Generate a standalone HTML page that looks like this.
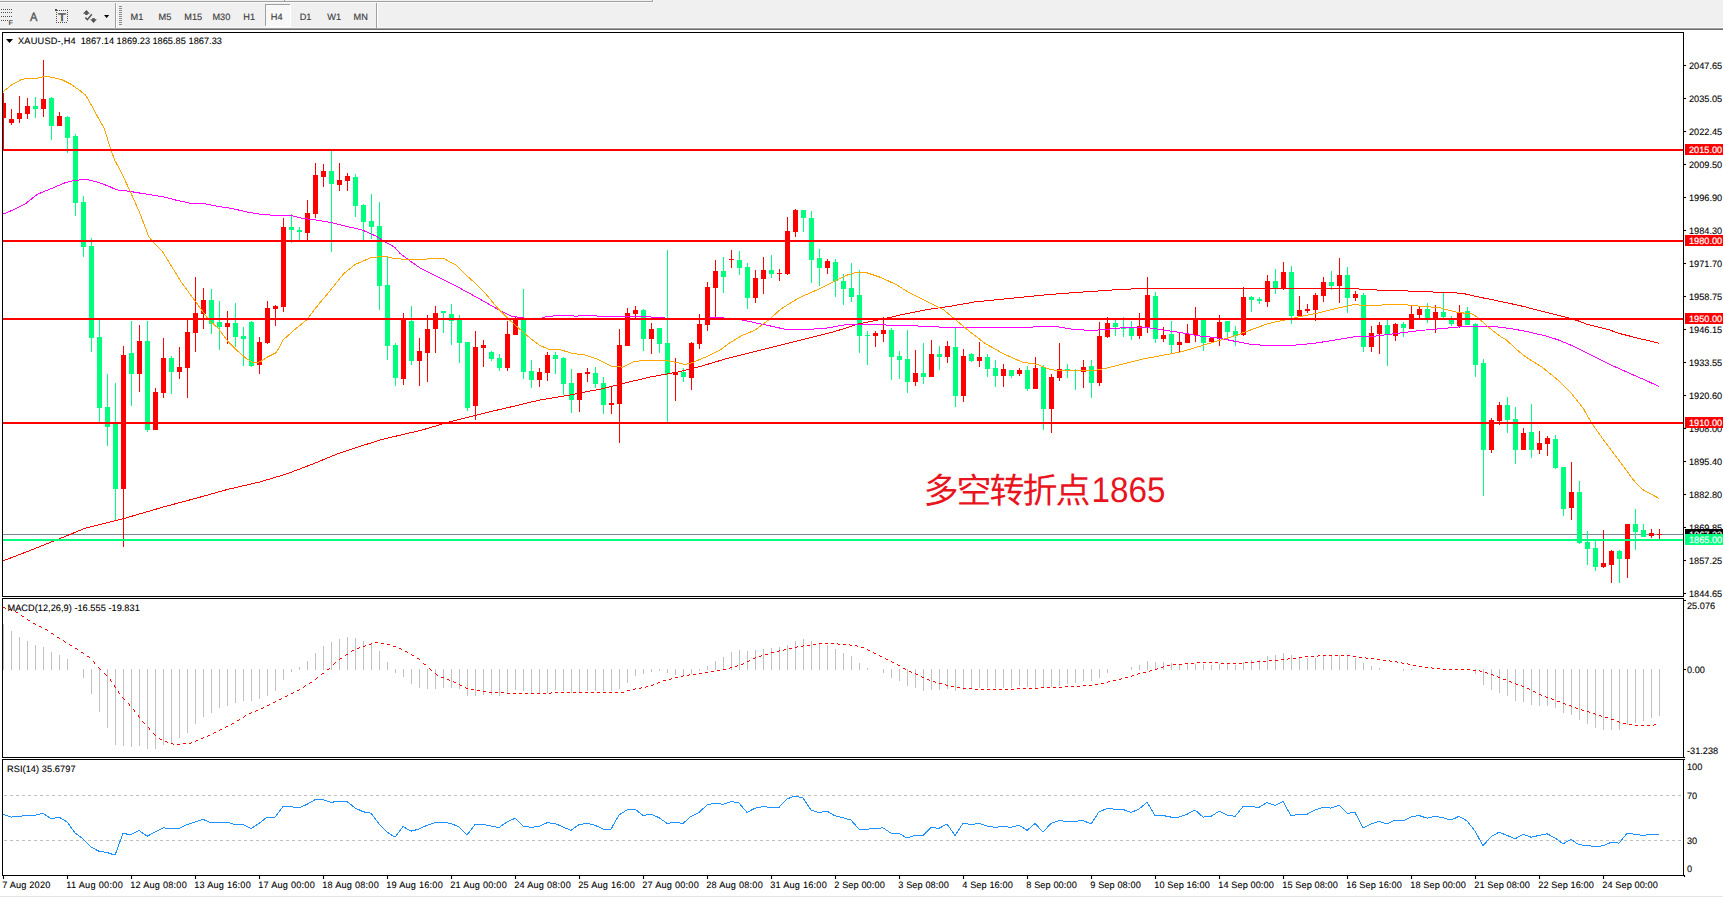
<!DOCTYPE html>
<html><head><meta charset="utf-8"><title>XAUUSD-,H4</title>
<style>
html,body{margin:0;padding:0;background:#fff;}
body{width:1723px;height:898px;overflow:hidden;}
svg{display:block;}
text{text-rendering:geometricPrecision;}
.tk{stroke:#000;stroke-width:0.1px;}
</style></head>
<body>
<svg width="1723" height="898" viewBox="0 0 1723 898">
<rect x="0" y="0" width="1723" height="28" fill="#F0F0F0"/>
<rect x="0" y="1" width="653" height="1" fill="#A0A0A0"/>
<rect x="652" y="0" width="1" height="2" fill="#A0A0A0"/>
<rect x="0" y="2" width="654" height="1" fill="#FAFAFA"/>
<rect x="653" y="0" width="1" height="3" fill="#FAFAFA"/>
<rect x="284" y="0" width="1" height="1" fill="#A0A0A0"/>
<rect x="0" y="27" width="1723" height="1" fill="#F8F8F8"/>
<rect x="0" y="28" width="1723" height="1" fill="#A0A0A0"/>
<rect x="0" y="29" width="1723" height="1" fill="#6E6E6E"/>
<rect x="115" y="3" width="1" height="25" fill="#A0A0A0"/>
<rect x="116" y="3" width="1" height="25" fill="#FFFFFF"/>
<rect x="376" y="3" width="1" height="25" fill="#A0A0A0"/>
<rect x="377" y="3" width="1" height="25" fill="#FFFFFF"/>
<rect x="119" y="6" width="3" height="1" fill="#8C8C8C"/>
<rect x="119" y="8" width="3" height="1" fill="#8C8C8C"/>
<rect x="119" y="10" width="3" height="1" fill="#8C8C8C"/>
<rect x="119" y="12" width="3" height="1" fill="#8C8C8C"/>
<rect x="119" y="14" width="3" height="1" fill="#8C8C8C"/>
<rect x="119" y="16" width="3" height="1" fill="#8C8C8C"/>
<rect x="119" y="18" width="3" height="1" fill="#8C8C8C"/>
<rect x="119" y="20" width="3" height="1" fill="#8C8C8C"/>
<rect x="119" y="22" width="3" height="1" fill="#8C8C8C"/>
<rect x="119" y="24" width="3" height="1" fill="#8C8C8C"/>
<rect x="1" y="9" width="1" height="1" fill="#505050"/>
<rect x="3" y="9" width="1" height="1" fill="#505050"/>
<rect x="5" y="9" width="1" height="1" fill="#505050"/>
<rect x="7" y="9" width="1" height="1" fill="#505050"/>
<rect x="9" y="9" width="1" height="1" fill="#505050"/>
<rect x="11" y="9" width="1" height="1" fill="#505050"/>
<rect x="1" y="12" width="1" height="1" fill="#505050"/>
<rect x="3" y="12" width="1" height="1" fill="#505050"/>
<rect x="5" y="12" width="1" height="1" fill="#505050"/>
<rect x="7" y="12" width="1" height="1" fill="#505050"/>
<rect x="9" y="12" width="1" height="1" fill="#505050"/>
<rect x="11" y="12" width="1" height="1" fill="#505050"/>
<rect x="1" y="16" width="1" height="1" fill="#505050"/>
<rect x="3" y="16" width="1" height="1" fill="#505050"/>
<rect x="5" y="16" width="1" height="1" fill="#505050"/>
<rect x="7" y="16" width="1" height="1" fill="#505050"/>
<rect x="9" y="16" width="1" height="1" fill="#505050"/>
<rect x="11" y="16" width="1" height="1" fill="#505050"/>
<rect x="1" y="20" width="1" height="1" fill="#505050"/>
<rect x="3" y="20" width="1" height="1" fill="#505050"/>
<rect x="5" y="20" width="1" height="1" fill="#505050"/>
<rect x="7" y="20" width="1" height="1" fill="#505050"/>
<text x="8.5" y="25.1" font-family="'Liberation Sans', Arial, sans-serif" font-size="7" font-weight="bold" fill="#505050" textLength="4.4" lengthAdjust="spacingAndGlyphs">F</text>
<text x="29.9" y="21" font-family="'Liberation Sans', Arial, sans-serif" font-size="12" fill="#505050" stroke="#505050" stroke-width="0.35" textLength="7.4" lengthAdjust="spacingAndGlyphs">A</text>
<rect x="59" y="10" width="1" height="1" fill="#505050"/>
<rect x="61" y="10" width="1" height="1" fill="#505050"/>
<rect x="63" y="10" width="1" height="1" fill="#505050"/>
<rect x="65" y="10" width="1" height="1" fill="#505050"/>
<rect x="67" y="10" width="1" height="1" fill="#505050"/>
<rect x="56" y="12" width="1" height="1" fill="#505050"/>
<rect x="56" y="14" width="1" height="1" fill="#505050"/>
<rect x="56" y="16" width="1" height="1" fill="#505050"/>
<rect x="56" y="18" width="1" height="1" fill="#505050"/>
<rect x="56" y="20" width="1" height="1" fill="#505050"/>
<rect x="56" y="22" width="1" height="1" fill="#505050"/>
<rect x="58" y="22" width="1" height="1" fill="#505050"/>
<rect x="60" y="22" width="1" height="1" fill="#505050"/>
<rect x="62" y="22" width="1" height="1" fill="#505050"/>
<rect x="64" y="22" width="1" height="1" fill="#505050"/>
<rect x="66" y="22" width="1" height="1" fill="#505050"/>
<rect x="67" y="12" width="1" height="1" fill="#505050"/>
<rect x="67" y="14" width="1" height="1" fill="#505050"/>
<rect x="67" y="16" width="1" height="1" fill="#505050"/>
<rect x="67" y="18" width="1" height="1" fill="#505050"/>
<rect x="67" y="20" width="1" height="1" fill="#505050"/>
<rect x="55" y="9" width="2" height="2" fill="#505050"/>
<rect x="57" y="10" width="1" height="1" fill="#505050"/>
<text x="57.9" y="21" font-family="'Liberation Sans', Arial, sans-serif" font-size="11" fill="#505050" stroke="#505050" stroke-width="0.45" textLength="8" lengthAdjust="spacingAndGlyphs">T</text>
<path d="M83 13.8 L86.4 10 L89.9 13.8 Z" fill="#505050"/>
<rect x="85.2" y="13.5" width="2.5" height="1.5" fill="#505050"/>
<path d="M90.2 19.2 L96.9 19.2 L93.5 22.9 Z" fill="#505050"/>
<rect x="92.3" y="18.1" width="2.5" height="1.5" fill="#505050"/>
<path d="M85.3 17.4 L87.4 19.6 L91.8 14.3" stroke="#505050" stroke-width="1.4" fill="none"/>
<path d="M104 15 L109.2 15 L106.6 18 Z" fill="#000"/>
<rect x="265" y="4" width="26" height="23" fill="#F8F8F8"/>
<rect x="265" y="4" width="25" height="1" fill="#A0A0A0"/>
<rect x="265" y="4" width="1" height="22" fill="#A0A0A0"/>
<rect x="290" y="4" width="1" height="23" fill="#FFFFFF"/>
<rect x="265" y="26" width="26" height="1" fill="#FFFFFF"/>
<text x="137.0" y="20" font-family="'Liberation Sans', Arial, sans-serif" font-size="9.2" fill="#404040" stroke="#404040" stroke-width="0.15" text-anchor="middle">M1</text>
<text x="165.0" y="20" font-family="'Liberation Sans', Arial, sans-serif" font-size="9.2" fill="#404040" stroke="#404040" stroke-width="0.15" text-anchor="middle">M5</text>
<text x="193.2" y="20" font-family="'Liberation Sans', Arial, sans-serif" font-size="9.2" fill="#404040" stroke="#404040" stroke-width="0.15" text-anchor="middle">M15</text>
<text x="221.4" y="20" font-family="'Liberation Sans', Arial, sans-serif" font-size="9.2" fill="#404040" stroke="#404040" stroke-width="0.15" text-anchor="middle">M30</text>
<text x="249.2" y="20" font-family="'Liberation Sans', Arial, sans-serif" font-size="9.2" fill="#404040" stroke="#404040" stroke-width="0.15" text-anchor="middle">H1</text>
<text x="276.7" y="20" font-family="'Liberation Sans', Arial, sans-serif" font-size="9.2" fill="#404040" stroke="#404040" stroke-width="0.15" text-anchor="middle">H4</text>
<text x="305.5" y="20" font-family="'Liberation Sans', Arial, sans-serif" font-size="9.2" fill="#404040" stroke="#404040" stroke-width="0.15" text-anchor="middle">D1</text>
<text x="334.2" y="20" font-family="'Liberation Sans', Arial, sans-serif" font-size="9.2" fill="#404040" stroke="#404040" stroke-width="0.15" text-anchor="middle">W1</text>
<text x="360.7" y="20" font-family="'Liberation Sans', Arial, sans-serif" font-size="9.2" fill="#404040" stroke="#404040" stroke-width="0.15" text-anchor="middle">MN</text>
<rect x="0" y="30" width="1723" height="866" fill="#FFFFFF"/>
<rect x="0" y="896" width="1723" height="1" fill="#E3E3E3"/>
<rect x="0" y="897" width="1723" height="1" fill="#FEFEFE"/>
<rect x="2" y="32" width="1682" height="1" fill="#000"/>
<rect x="2" y="596" width="1682" height="1" fill="#000"/>
<rect x="2" y="32" width="1" height="565" fill="#000"/>
<rect x="1683" y="32" width="1" height="565" fill="#000"/>
<rect x="2" y="598" width="1682" height="1" fill="#000"/>
<rect x="2" y="757" width="1682" height="1" fill="#000"/>
<rect x="2" y="598" width="1" height="160" fill="#000"/>
<rect x="1683" y="598" width="1" height="160" fill="#000"/>
<rect x="2" y="759" width="1682" height="1" fill="#000"/>
<rect x="2" y="875" width="1682" height="1" fill="#000"/>
<rect x="2" y="759" width="1" height="117" fill="#000"/>
<rect x="1683" y="759" width="1" height="117" fill="#000"/>
<defs><clipPath id="cm"><rect x="3" y="33" width="1680" height="563"/></clipPath><clipPath id="cmacd"><rect x="3" y="599" width="1680" height="158"/></clipPath><clipPath id="crsi"><rect x="3" y="760" width="1680" height="115"/></clipPath></defs>
<rect x="3" y="534" width="1680" height="1" fill="#778899"/>
<g clip-path="url(#cm)" shape-rendering="crispEdges">
<rect x="3" y="93" width="1" height="58" fill="#FF0000"/>
<rect x="1" y="103" width="5" height="15" fill="#FF0000"/>
<rect x="11" y="109" width="1" height="16" fill="#FF0000"/>
<rect x="9" y="119" width="5" height="4" fill="#FF0000"/>
<rect x="19" y="96" width="1" height="27" fill="#FF0000"/>
<rect x="17" y="113" width="5" height="6" fill="#FF0000"/>
<rect x="27" y="98" width="1" height="21" fill="#FF0000"/>
<rect x="25" y="106" width="5" height="8" fill="#FF0000"/>
<rect x="35" y="97" width="1" height="21" fill="#00FF7F"/>
<rect x="33" y="106" width="5" height="3" fill="#00FF7F"/>
<rect x="43" y="60" width="1" height="57" fill="#FF0000"/>
<rect x="41" y="99" width="5" height="10" fill="#FF0000"/>
<rect x="51" y="97" width="1" height="43" fill="#00FF7F"/>
<rect x="49" y="98" width="5" height="28" fill="#00FF7F"/>
<rect x="59" y="112" width="1" height="14" fill="#FF0000"/>
<rect x="57" y="116" width="5" height="10" fill="#FF0000"/>
<rect x="67" y="116" width="1" height="37" fill="#00FF7F"/>
<rect x="65" y="117" width="5" height="21" fill="#00FF7F"/>
<rect x="75" y="134" width="1" height="82" fill="#00FF7F"/>
<rect x="73" y="136" width="5" height="67" fill="#00FF7F"/>
<rect x="83" y="196" width="1" height="61" fill="#00FF7F"/>
<rect x="81" y="202" width="5" height="45" fill="#00FF7F"/>
<rect x="91" y="238" width="1" height="114" fill="#00FF7F"/>
<rect x="89" y="246" width="5" height="92" fill="#00FF7F"/>
<rect x="99" y="320" width="1" height="102" fill="#00FF7F"/>
<rect x="97" y="337" width="5" height="71" fill="#00FF7F"/>
<rect x="107" y="374" width="1" height="72" fill="#00FF7F"/>
<rect x="105" y="407" width="5" height="20" fill="#00FF7F"/>
<rect x="115" y="383" width="1" height="138" fill="#00FF7F"/>
<rect x="113" y="424" width="5" height="65" fill="#00FF7F"/>
<rect x="123" y="346" width="1" height="201" fill="#FF0000"/>
<rect x="121" y="355" width="5" height="134" fill="#FF0000"/>
<rect x="131" y="321" width="1" height="85" fill="#00FF7F"/>
<rect x="129" y="353" width="5" height="21" fill="#00FF7F"/>
<rect x="139" y="325" width="1" height="67" fill="#FF0000"/>
<rect x="137" y="341" width="5" height="33" fill="#FF0000"/>
<rect x="147" y="321" width="1" height="111" fill="#00FF7F"/>
<rect x="145" y="341" width="5" height="89" fill="#00FF7F"/>
<rect x="155" y="388" width="1" height="42" fill="#FF0000"/>
<rect x="153" y="392" width="5" height="38" fill="#FF0000"/>
<rect x="163" y="338" width="1" height="60" fill="#FF0000"/>
<rect x="161" y="358" width="5" height="35" fill="#FF0000"/>
<rect x="171" y="356" width="1" height="38" fill="#00FF7F"/>
<rect x="169" y="358" width="5" height="14" fill="#00FF7F"/>
<rect x="179" y="347" width="1" height="32" fill="#FF0000"/>
<rect x="177" y="367" width="5" height="5" fill="#FF0000"/>
<rect x="187" y="320" width="1" height="78" fill="#FF0000"/>
<rect x="185" y="332" width="5" height="36" fill="#FF0000"/>
<rect x="195" y="277" width="1" height="75" fill="#FF0000"/>
<rect x="193" y="313" width="5" height="20" fill="#FF0000"/>
<rect x="203" y="288" width="1" height="41" fill="#FF0000"/>
<rect x="201" y="300" width="5" height="14" fill="#FF0000"/>
<rect x="211" y="289" width="1" height="45" fill="#00FF7F"/>
<rect x="209" y="300" width="5" height="24" fill="#00FF7F"/>
<rect x="219" y="301" width="1" height="49" fill="#00FF7F"/>
<rect x="217" y="322" width="5" height="5" fill="#00FF7F"/>
<rect x="227" y="311" width="1" height="33" fill="#FF0000"/>
<rect x="225" y="323" width="5" height="4" fill="#FF0000"/>
<rect x="235" y="303" width="1" height="44" fill="#00FF7F"/>
<rect x="233" y="323" width="5" height="14" fill="#00FF7F"/>
<rect x="243" y="327" width="1" height="39" fill="#00FF7F"/>
<rect x="241" y="336" width="5" height="3" fill="#00FF7F"/>
<rect x="251" y="321" width="1" height="46" fill="#00FF7F"/>
<rect x="249" y="322" width="5" height="44" fill="#00FF7F"/>
<rect x="259" y="337" width="1" height="37" fill="#FF0000"/>
<rect x="257" y="342" width="5" height="23" fill="#FF0000"/>
<rect x="267" y="301" width="1" height="43" fill="#FF0000"/>
<rect x="265" y="308" width="5" height="35" fill="#FF0000"/>
<rect x="275" y="305" width="1" height="21" fill="#FF0000"/>
<rect x="273" y="306" width="5" height="3" fill="#FF0000"/>
<rect x="283" y="218" width="1" height="94" fill="#FF0000"/>
<rect x="281" y="227" width="5" height="80" fill="#FF0000"/>
<rect x="291" y="214" width="1" height="29" fill="#00FF7F"/>
<rect x="289" y="227" width="5" height="3" fill="#00FF7F"/>
<rect x="299" y="227" width="1" height="13" fill="#00FF7F"/>
<rect x="297" y="230" width="5" height="2" fill="#00FF7F"/>
<rect x="307" y="200" width="1" height="40" fill="#FF0000"/>
<rect x="305" y="213" width="5" height="20" fill="#FF0000"/>
<rect x="315" y="163" width="1" height="55" fill="#FF0000"/>
<rect x="313" y="175" width="5" height="39" fill="#FF0000"/>
<rect x="323" y="164" width="1" height="23" fill="#FF0000"/>
<rect x="321" y="171" width="5" height="6" fill="#FF0000"/>
<rect x="331" y="151" width="1" height="101" fill="#00FF7F"/>
<rect x="329" y="171" width="5" height="13" fill="#00FF7F"/>
<rect x="339" y="163" width="1" height="28" fill="#FF0000"/>
<rect x="337" y="180" width="5" height="5" fill="#FF0000"/>
<rect x="347" y="173" width="1" height="18" fill="#FF0000"/>
<rect x="345" y="176" width="5" height="5" fill="#FF0000"/>
<rect x="355" y="174" width="1" height="43" fill="#00FF7F"/>
<rect x="353" y="177" width="5" height="29" fill="#00FF7F"/>
<rect x="363" y="204" width="1" height="36" fill="#00FF7F"/>
<rect x="361" y="205" width="5" height="17" fill="#00FF7F"/>
<rect x="371" y="194" width="1" height="45" fill="#00FF7F"/>
<rect x="369" y="221" width="5" height="6" fill="#00FF7F"/>
<rect x="379" y="202" width="1" height="108" fill="#00FF7F"/>
<rect x="377" y="226" width="5" height="60" fill="#00FF7F"/>
<rect x="387" y="256" width="1" height="104" fill="#00FF7F"/>
<rect x="385" y="285" width="5" height="61" fill="#00FF7F"/>
<rect x="395" y="343" width="1" height="43" fill="#00FF7F"/>
<rect x="393" y="345" width="5" height="33" fill="#00FF7F"/>
<rect x="403" y="313" width="1" height="72" fill="#FF0000"/>
<rect x="401" y="319" width="5" height="60" fill="#FF0000"/>
<rect x="411" y="306" width="1" height="59" fill="#00FF7F"/>
<rect x="409" y="321" width="5" height="40" fill="#00FF7F"/>
<rect x="419" y="338" width="1" height="48" fill="#FF0000"/>
<rect x="417" y="351" width="5" height="10" fill="#FF0000"/>
<rect x="427" y="315" width="1" height="67" fill="#FF0000"/>
<rect x="425" y="329" width="5" height="24" fill="#FF0000"/>
<rect x="435" y="306" width="1" height="47" fill="#FF0000"/>
<rect x="433" y="313" width="5" height="16" fill="#FF0000"/>
<rect x="443" y="311" width="1" height="22" fill="#00FF7F"/>
<rect x="441" y="311" width="5" height="2" fill="#00FF7F"/>
<rect x="451" y="304" width="1" height="41" fill="#00FF7F"/>
<rect x="449" y="314" width="5" height="7" fill="#00FF7F"/>
<rect x="459" y="315" width="1" height="48" fill="#00FF7F"/>
<rect x="457" y="319" width="5" height="24" fill="#00FF7F"/>
<rect x="467" y="342" width="1" height="69" fill="#00FF7F"/>
<rect x="465" y="342" width="5" height="66" fill="#00FF7F"/>
<rect x="475" y="331" width="1" height="89" fill="#FF0000"/>
<rect x="473" y="347" width="5" height="59" fill="#FF0000"/>
<rect x="483" y="340" width="1" height="27" fill="#FF0000"/>
<rect x="481" y="345" width="5" height="3" fill="#FF0000"/>
<rect x="491" y="351" width="1" height="10" fill="#00FF7F"/>
<rect x="489" y="352" width="5" height="7" fill="#00FF7F"/>
<rect x="499" y="354" width="1" height="17" fill="#00FF7F"/>
<rect x="497" y="358" width="5" height="10" fill="#00FF7F"/>
<rect x="507" y="321" width="1" height="50" fill="#FF0000"/>
<rect x="505" y="334" width="5" height="34" fill="#FF0000"/>
<rect x="515" y="317" width="1" height="18" fill="#FF0000"/>
<rect x="513" y="319" width="5" height="16" fill="#FF0000"/>
<rect x="523" y="289" width="1" height="90" fill="#00FF7F"/>
<rect x="521" y="319" width="5" height="53" fill="#00FF7F"/>
<rect x="531" y="360" width="1" height="28" fill="#00FF7F"/>
<rect x="529" y="371" width="5" height="9" fill="#00FF7F"/>
<rect x="539" y="368" width="1" height="19" fill="#FF0000"/>
<rect x="537" y="372" width="5" height="8" fill="#FF0000"/>
<rect x="547" y="352" width="1" height="29" fill="#FF0000"/>
<rect x="545" y="355" width="5" height="18" fill="#FF0000"/>
<rect x="555" y="352" width="1" height="22" fill="#00FF7F"/>
<rect x="553" y="355" width="5" height="4" fill="#00FF7F"/>
<rect x="563" y="357" width="1" height="38" fill="#00FF7F"/>
<rect x="561" y="358" width="5" height="26" fill="#00FF7F"/>
<rect x="571" y="369" width="1" height="44" fill="#00FF7F"/>
<rect x="569" y="383" width="5" height="17" fill="#00FF7F"/>
<rect x="579" y="373" width="1" height="39" fill="#FF0000"/>
<rect x="577" y="373" width="5" height="27" fill="#FF0000"/>
<rect x="587" y="368" width="1" height="14" fill="#FF0000"/>
<rect x="585" y="372" width="5" height="2" fill="#FF0000"/>
<rect x="595" y="367" width="1" height="21" fill="#00FF7F"/>
<rect x="593" y="373" width="5" height="11" fill="#00FF7F"/>
<rect x="603" y="377" width="1" height="37" fill="#00FF7F"/>
<rect x="601" y="383" width="5" height="22" fill="#00FF7F"/>
<rect x="611" y="387" width="1" height="27" fill="#FF0000"/>
<rect x="609" y="403" width="5" height="2" fill="#FF0000"/>
<rect x="619" y="329" width="1" height="114" fill="#FF0000"/>
<rect x="617" y="345" width="5" height="59" fill="#FF0000"/>
<rect x="627" y="308" width="1" height="38" fill="#FF0000"/>
<rect x="625" y="313" width="5" height="33" fill="#FF0000"/>
<rect x="635" y="306" width="1" height="13" fill="#FF0000"/>
<rect x="633" y="310" width="5" height="4" fill="#FF0000"/>
<rect x="643" y="309" width="1" height="42" fill="#00FF7F"/>
<rect x="641" y="310" width="5" height="29" fill="#00FF7F"/>
<rect x="651" y="323" width="1" height="31" fill="#FF0000"/>
<rect x="649" y="329" width="5" height="10" fill="#FF0000"/>
<rect x="659" y="328" width="1" height="25" fill="#00FF7F"/>
<rect x="657" y="328" width="5" height="16" fill="#00FF7F"/>
<rect x="667" y="250" width="1" height="172" fill="#00FF7F"/>
<rect x="665" y="343" width="5" height="31" fill="#00FF7F"/>
<rect x="675" y="358" width="1" height="43" fill="#FF0000"/>
<rect x="673" y="372" width="5" height="3" fill="#FF0000"/>
<rect x="683" y="368" width="1" height="14" fill="#00FF7F"/>
<rect x="681" y="372" width="5" height="5" fill="#00FF7F"/>
<rect x="691" y="342" width="1" height="48" fill="#FF0000"/>
<rect x="689" y="343" width="5" height="35" fill="#FF0000"/>
<rect x="699" y="314" width="1" height="35" fill="#FF0000"/>
<rect x="697" y="324" width="5" height="20" fill="#FF0000"/>
<rect x="707" y="282" width="1" height="49" fill="#FF0000"/>
<rect x="705" y="287" width="5" height="38" fill="#FF0000"/>
<rect x="715" y="260" width="1" height="58" fill="#FF0000"/>
<rect x="713" y="271" width="5" height="17" fill="#FF0000"/>
<rect x="723" y="257" width="1" height="36" fill="#00FF7F"/>
<rect x="721" y="271" width="5" height="6" fill="#00FF7F"/>
<rect x="731" y="250" width="1" height="18" fill="#FF0000"/>
<rect x="729" y="259" width="5" height="1" fill="#FF0000"/>
<rect x="739" y="251" width="1" height="24" fill="#00FF7F"/>
<rect x="737" y="260" width="5" height="8" fill="#00FF7F"/>
<rect x="747" y="263" width="1" height="46" fill="#00FF7F"/>
<rect x="745" y="267" width="5" height="31" fill="#00FF7F"/>
<rect x="755" y="270" width="1" height="33" fill="#FF0000"/>
<rect x="753" y="278" width="5" height="20" fill="#FF0000"/>
<rect x="763" y="257" width="1" height="37" fill="#FF0000"/>
<rect x="761" y="270" width="5" height="9" fill="#FF0000"/>
<rect x="771" y="255" width="1" height="23" fill="#00FF7F"/>
<rect x="769" y="270" width="5" height="4" fill="#00FF7F"/>
<rect x="779" y="269" width="1" height="12" fill="#FF0000"/>
<rect x="777" y="273" width="5" height="1" fill="#FF0000"/>
<rect x="787" y="217" width="1" height="58" fill="#FF0000"/>
<rect x="785" y="231" width="5" height="43" fill="#FF0000"/>
<rect x="795" y="209" width="1" height="28" fill="#FF0000"/>
<rect x="793" y="210" width="5" height="22" fill="#FF0000"/>
<rect x="803" y="210" width="1" height="22" fill="#00FF7F"/>
<rect x="801" y="210" width="5" height="8" fill="#00FF7F"/>
<rect x="811" y="211" width="1" height="72" fill="#00FF7F"/>
<rect x="809" y="218" width="5" height="42" fill="#00FF7F"/>
<rect x="819" y="249" width="1" height="37" fill="#00FF7F"/>
<rect x="817" y="258" width="5" height="10" fill="#00FF7F"/>
<rect x="827" y="259" width="1" height="15" fill="#FF0000"/>
<rect x="825" y="261" width="5" height="7" fill="#FF0000"/>
<rect x="835" y="259" width="1" height="38" fill="#00FF7F"/>
<rect x="833" y="262" width="5" height="19" fill="#00FF7F"/>
<rect x="843" y="274" width="1" height="31" fill="#00FF7F"/>
<rect x="841" y="281" width="5" height="8" fill="#00FF7F"/>
<rect x="851" y="263" width="1" height="39" fill="#00FF7F"/>
<rect x="849" y="288" width="5" height="9" fill="#00FF7F"/>
<rect x="859" y="270" width="1" height="83" fill="#00FF7F"/>
<rect x="857" y="295" width="5" height="41" fill="#00FF7F"/>
<rect x="867" y="331" width="1" height="34" fill="#00FF7F"/>
<rect x="865" y="335" width="5" height="1" fill="#00FF7F"/>
<rect x="875" y="331" width="1" height="16" fill="#FF0000"/>
<rect x="873" y="333" width="5" height="3" fill="#FF0000"/>
<rect x="883" y="317" width="1" height="25" fill="#FF0000"/>
<rect x="881" y="330" width="5" height="4" fill="#FF0000"/>
<rect x="891" y="328" width="1" height="52" fill="#00FF7F"/>
<rect x="889" y="330" width="5" height="27" fill="#00FF7F"/>
<rect x="899" y="351" width="1" height="28" fill="#00FF7F"/>
<rect x="897" y="356" width="5" height="4" fill="#00FF7F"/>
<rect x="907" y="330" width="1" height="63" fill="#00FF7F"/>
<rect x="905" y="359" width="5" height="23" fill="#00FF7F"/>
<rect x="915" y="350" width="1" height="36" fill="#FF0000"/>
<rect x="913" y="373" width="5" height="9" fill="#FF0000"/>
<rect x="923" y="343" width="1" height="41" fill="#00FF7F"/>
<rect x="921" y="373" width="5" height="4" fill="#00FF7F"/>
<rect x="931" y="340" width="1" height="37" fill="#FF0000"/>
<rect x="929" y="354" width="5" height="23" fill="#FF0000"/>
<rect x="939" y="346" width="1" height="24" fill="#00FF7F"/>
<rect x="937" y="354" width="5" height="3" fill="#00FF7F"/>
<rect x="947" y="341" width="1" height="22" fill="#FF0000"/>
<rect x="945" y="346" width="5" height="11" fill="#FF0000"/>
<rect x="955" y="328" width="1" height="79" fill="#00FF7F"/>
<rect x="953" y="347" width="5" height="49" fill="#00FF7F"/>
<rect x="963" y="349" width="1" height="53" fill="#FF0000"/>
<rect x="961" y="356" width="5" height="40" fill="#FF0000"/>
<rect x="971" y="353" width="1" height="9" fill="#00FF7F"/>
<rect x="969" y="354" width="5" height="7" fill="#00FF7F"/>
<rect x="979" y="342" width="1" height="25" fill="#FF0000"/>
<rect x="977" y="357" width="5" height="4" fill="#FF0000"/>
<rect x="987" y="354" width="1" height="23" fill="#00FF7F"/>
<rect x="985" y="357" width="5" height="12" fill="#00FF7F"/>
<rect x="995" y="360" width="1" height="27" fill="#00FF7F"/>
<rect x="993" y="368" width="5" height="8" fill="#00FF7F"/>
<rect x="1003" y="364" width="1" height="23" fill="#FF0000"/>
<rect x="1001" y="369" width="5" height="7" fill="#FF0000"/>
<rect x="1011" y="370" width="1" height="8" fill="#00FF7F"/>
<rect x="1009" y="370" width="5" height="6" fill="#00FF7F"/>
<rect x="1019" y="368" width="1" height="8" fill="#FF0000"/>
<rect x="1017" y="370" width="5" height="4" fill="#FF0000"/>
<rect x="1027" y="366" width="1" height="25" fill="#00FF7F"/>
<rect x="1025" y="370" width="5" height="19" fill="#00FF7F"/>
<rect x="1035" y="357" width="1" height="32" fill="#FF0000"/>
<rect x="1033" y="368" width="5" height="21" fill="#FF0000"/>
<rect x="1043" y="365" width="1" height="65" fill="#00FF7F"/>
<rect x="1041" y="367" width="5" height="42" fill="#00FF7F"/>
<rect x="1051" y="374" width="1" height="59" fill="#FF0000"/>
<rect x="1049" y="377" width="5" height="32" fill="#FF0000"/>
<rect x="1059" y="343" width="1" height="38" fill="#FF0000"/>
<rect x="1057" y="369" width="5" height="9" fill="#FF0000"/>
<rect x="1067" y="364" width="1" height="14" fill="#00FF7F"/>
<rect x="1065" y="369" width="5" height="2" fill="#00FF7F"/>
<rect x="1075" y="369" width="1" height="21" fill="#00FF7F"/>
<rect x="1073" y="370" width="5" height="1" fill="#00FF7F"/>
<rect x="1083" y="360" width="1" height="28" fill="#FF0000"/>
<rect x="1081" y="367" width="5" height="5" fill="#FF0000"/>
<rect x="1091" y="360" width="1" height="38" fill="#00FF7F"/>
<rect x="1089" y="366" width="5" height="17" fill="#00FF7F"/>
<rect x="1099" y="322" width="1" height="64" fill="#FF0000"/>
<rect x="1097" y="336" width="5" height="47" fill="#FF0000"/>
<rect x="1107" y="317" width="1" height="21" fill="#FF0000"/>
<rect x="1105" y="323" width="5" height="14" fill="#FF0000"/>
<rect x="1115" y="320" width="1" height="16" fill="#00FF7F"/>
<rect x="1113" y="323" width="5" height="4" fill="#00FF7F"/>
<rect x="1123" y="317" width="1" height="20" fill="#00FF7F"/>
<rect x="1121" y="328" width="5" height="1" fill="#00FF7F"/>
<rect x="1131" y="321" width="1" height="19" fill="#00FF7F"/>
<rect x="1129" y="328" width="5" height="8" fill="#00FF7F"/>
<rect x="1139" y="313" width="1" height="26" fill="#FF0000"/>
<rect x="1137" y="326" width="5" height="10" fill="#FF0000"/>
<rect x="1147" y="277" width="1" height="56" fill="#FF0000"/>
<rect x="1145" y="295" width="5" height="32" fill="#FF0000"/>
<rect x="1155" y="292" width="1" height="51" fill="#00FF7F"/>
<rect x="1153" y="296" width="5" height="43" fill="#00FF7F"/>
<rect x="1163" y="327" width="1" height="15" fill="#FF0000"/>
<rect x="1161" y="335" width="5" height="4" fill="#FF0000"/>
<rect x="1171" y="321" width="1" height="32" fill="#00FF7F"/>
<rect x="1169" y="334" width="5" height="11" fill="#00FF7F"/>
<rect x="1179" y="332" width="1" height="20" fill="#FF0000"/>
<rect x="1177" y="342" width="5" height="3" fill="#FF0000"/>
<rect x="1187" y="324" width="1" height="19" fill="#FF0000"/>
<rect x="1185" y="334" width="5" height="9" fill="#FF0000"/>
<rect x="1195" y="307" width="1" height="35" fill="#FF0000"/>
<rect x="1193" y="319" width="5" height="16" fill="#FF0000"/>
<rect x="1203" y="320" width="1" height="31" fill="#00FF7F"/>
<rect x="1201" y="320" width="5" height="23" fill="#00FF7F"/>
<rect x="1211" y="337" width="1" height="6" fill="#FF0000"/>
<rect x="1209" y="338" width="5" height="4" fill="#FF0000"/>
<rect x="1219" y="315" width="1" height="31" fill="#FF0000"/>
<rect x="1217" y="322" width="5" height="17" fill="#FF0000"/>
<rect x="1227" y="321" width="1" height="17" fill="#00FF7F"/>
<rect x="1225" y="321" width="5" height="11" fill="#00FF7F"/>
<rect x="1235" y="326" width="1" height="20" fill="#00FF7F"/>
<rect x="1233" y="331" width="5" height="5" fill="#00FF7F"/>
<rect x="1243" y="287" width="1" height="49" fill="#FF0000"/>
<rect x="1241" y="297" width="5" height="38" fill="#FF0000"/>
<rect x="1251" y="296" width="1" height="16" fill="#00FF7F"/>
<rect x="1249" y="297" width="5" height="3" fill="#00FF7F"/>
<rect x="1259" y="297" width="1" height="7" fill="#00FF7F"/>
<rect x="1257" y="299" width="5" height="2" fill="#00FF7F"/>
<rect x="1267" y="275" width="1" height="32" fill="#FF0000"/>
<rect x="1265" y="281" width="5" height="21" fill="#FF0000"/>
<rect x="1275" y="269" width="1" height="25" fill="#00FF7F"/>
<rect x="1273" y="281" width="5" height="7" fill="#00FF7F"/>
<rect x="1283" y="262" width="1" height="28" fill="#FF0000"/>
<rect x="1281" y="272" width="5" height="17" fill="#FF0000"/>
<rect x="1291" y="266" width="1" height="58" fill="#00FF7F"/>
<rect x="1289" y="272" width="5" height="44" fill="#00FF7F"/>
<rect x="1299" y="296" width="1" height="20" fill="#FF0000"/>
<rect x="1297" y="310" width="5" height="6" fill="#FF0000"/>
<rect x="1307" y="304" width="1" height="9" fill="#FF0000"/>
<rect x="1305" y="309" width="5" height="2" fill="#FF0000"/>
<rect x="1315" y="293" width="1" height="28" fill="#FF0000"/>
<rect x="1313" y="295" width="5" height="15" fill="#FF0000"/>
<rect x="1323" y="277" width="1" height="25" fill="#FF0000"/>
<rect x="1321" y="282" width="5" height="14" fill="#FF0000"/>
<rect x="1331" y="271" width="1" height="19" fill="#00FF7F"/>
<rect x="1329" y="282" width="5" height="4" fill="#00FF7F"/>
<rect x="1339" y="258" width="1" height="45" fill="#FF0000"/>
<rect x="1337" y="275" width="5" height="11" fill="#FF0000"/>
<rect x="1347" y="267" width="1" height="46" fill="#00FF7F"/>
<rect x="1345" y="275" width="5" height="23" fill="#00FF7F"/>
<rect x="1355" y="291" width="1" height="10" fill="#FF0000"/>
<rect x="1353" y="294" width="5" height="4" fill="#FF0000"/>
<rect x="1363" y="293" width="1" height="59" fill="#00FF7F"/>
<rect x="1361" y="295" width="5" height="52" fill="#00FF7F"/>
<rect x="1371" y="326" width="1" height="26" fill="#FF0000"/>
<rect x="1369" y="333" width="5" height="14" fill="#FF0000"/>
<rect x="1379" y="322" width="1" height="32" fill="#FF0000"/>
<rect x="1377" y="325" width="5" height="9" fill="#FF0000"/>
<rect x="1387" y="320" width="1" height="46" fill="#00FF7F"/>
<rect x="1385" y="325" width="5" height="10" fill="#00FF7F"/>
<rect x="1395" y="323" width="1" height="18" fill="#FF0000"/>
<rect x="1393" y="324" width="5" height="12" fill="#FF0000"/>
<rect x="1403" y="322" width="1" height="15" fill="#00FF7F"/>
<rect x="1401" y="324" width="5" height="4" fill="#00FF7F"/>
<rect x="1411" y="306" width="1" height="23" fill="#FF0000"/>
<rect x="1409" y="314" width="5" height="15" fill="#FF0000"/>
<rect x="1419" y="307" width="1" height="12" fill="#FF0000"/>
<rect x="1417" y="309" width="5" height="6" fill="#FF0000"/>
<rect x="1427" y="303" width="1" height="20" fill="#00FF7F"/>
<rect x="1425" y="309" width="5" height="9" fill="#00FF7F"/>
<rect x="1435" y="305" width="1" height="28" fill="#FF0000"/>
<rect x="1433" y="312" width="5" height="6" fill="#FF0000"/>
<rect x="1443" y="293" width="1" height="25" fill="#00FF7F"/>
<rect x="1441" y="312" width="5" height="5" fill="#00FF7F"/>
<rect x="1451" y="316" width="1" height="10" fill="#00FF7F"/>
<rect x="1449" y="320" width="5" height="4" fill="#00FF7F"/>
<rect x="1459" y="305" width="1" height="23" fill="#FF0000"/>
<rect x="1457" y="312" width="5" height="14" fill="#FF0000"/>
<rect x="1467" y="307" width="1" height="18" fill="#00FF7F"/>
<rect x="1465" y="311" width="5" height="14" fill="#00FF7F"/>
<rect x="1475" y="323" width="1" height="54" fill="#00FF7F"/>
<rect x="1473" y="324" width="5" height="41" fill="#00FF7F"/>
<rect x="1483" y="359" width="1" height="137" fill="#00FF7F"/>
<rect x="1481" y="363" width="5" height="87" fill="#00FF7F"/>
<rect x="1491" y="418" width="1" height="35" fill="#FF0000"/>
<rect x="1489" y="420" width="5" height="30" fill="#FF0000"/>
<rect x="1499" y="402" width="1" height="23" fill="#FF0000"/>
<rect x="1497" y="405" width="5" height="16" fill="#FF0000"/>
<rect x="1507" y="397" width="1" height="36" fill="#00FF7F"/>
<rect x="1505" y="405" width="5" height="15" fill="#00FF7F"/>
<rect x="1515" y="407" width="1" height="57" fill="#00FF7F"/>
<rect x="1513" y="419" width="5" height="31" fill="#00FF7F"/>
<rect x="1523" y="428" width="1" height="22" fill="#FF0000"/>
<rect x="1521" y="433" width="5" height="17" fill="#FF0000"/>
<rect x="1531" y="404" width="1" height="54" fill="#00FF7F"/>
<rect x="1529" y="432" width="5" height="18" fill="#00FF7F"/>
<rect x="1539" y="431" width="1" height="23" fill="#FF0000"/>
<rect x="1537" y="443" width="5" height="7" fill="#FF0000"/>
<rect x="1547" y="436" width="1" height="20" fill="#FF0000"/>
<rect x="1545" y="438" width="5" height="6" fill="#FF0000"/>
<rect x="1555" y="435" width="1" height="34" fill="#00FF7F"/>
<rect x="1553" y="439" width="5" height="29" fill="#00FF7F"/>
<rect x="1563" y="467" width="1" height="49" fill="#00FF7F"/>
<rect x="1561" y="467" width="5" height="42" fill="#00FF7F"/>
<rect x="1571" y="462" width="1" height="58" fill="#FF0000"/>
<rect x="1569" y="492" width="5" height="16" fill="#FF0000"/>
<rect x="1579" y="481" width="1" height="63" fill="#00FF7F"/>
<rect x="1577" y="492" width="5" height="51" fill="#00FF7F"/>
<rect x="1587" y="531" width="1" height="34" fill="#00FF7F"/>
<rect x="1585" y="542" width="5" height="7" fill="#00FF7F"/>
<rect x="1595" y="541" width="1" height="30" fill="#00FF7F"/>
<rect x="1593" y="548" width="5" height="19" fill="#00FF7F"/>
<rect x="1603" y="530" width="1" height="38" fill="#FF0000"/>
<rect x="1601" y="563" width="5" height="4" fill="#FF0000"/>
<rect x="1611" y="550" width="1" height="33" fill="#FF0000"/>
<rect x="1609" y="551" width="5" height="14" fill="#FF0000"/>
<rect x="1619" y="550" width="1" height="33" fill="#00FF7F"/>
<rect x="1617" y="551" width="5" height="8" fill="#00FF7F"/>
<rect x="1627" y="524" width="1" height="54" fill="#FF0000"/>
<rect x="1625" y="524" width="5" height="35" fill="#FF0000"/>
<rect x="1635" y="509" width="1" height="41" fill="#00FF7F"/>
<rect x="1633" y="524" width="5" height="8" fill="#00FF7F"/>
<rect x="1643" y="524" width="1" height="13" fill="#00FF7F"/>
<rect x="1641" y="530" width="5" height="7" fill="#00FF7F"/>
<rect x="1651" y="529" width="1" height="9" fill="#FF0000"/>
<rect x="1649" y="533" width="5" height="3" fill="#FF0000"/>
<rect x="1659" y="529" width="1" height="10" fill="#FF0000"/>
<rect x="1657" y="534" width="5" height="1" fill="#FF0000"/>
</g>
<g clip-path="url(#cm)" shape-rendering="crispEdges">
<polyline points="3.03,560.93 32.53,549.53 58.53,539.13 84.53,528.43 123.53,518.63 162.53,507.23 195.03,498.53 227.53,489.43 260.03,481.93 286.03,474.13 312.03,464.33 338.03,453.63 357.53,447.13 383.53,439.03 422.53,429.93 448.53,422.13 487.53,412.33 509.13,407.33 539.33,400.13 569.53,395.03 599.73,389.23 622.93,383.43 650.73,376.93 678.63,371.83 701.83,366.03 725.03,359.03 748.23,353.23 771.43,347.43 800.03,340.33 834.83,331.53 858.03,324.03 881.33,319.43 904.53,314.03 927.73,309.43 950.93,306.13 974.13,302.03 997.33,299.63 1020.53,297.33 1043.83,295.03 1067.03,293.13 1090.23,291.53 1113.43,289.93 1136.63,288.73 1159.83,288.03 1200.03,288.53 1358.03,288.53 1360.03,289.53 1376.03,289.53 1378.03,290.53 1407.03,290.53 1409.03,291.43 1432.03,291.43 1434.03,292.33 1448.03,292.43 1463.03,293.43 1480.03,297.33 1490.73,299.43 1506.83,302.73 1523.03,306.33 1539.03,310.63 1555.23,314.53 1567.03,317.43 1576.63,320.33 1587.43,324.43 1598.13,327.03 1608.83,329.73 1619.63,333.53 1630.33,336.23 1641.03,338.93 1651.83,341.33 1659.03,343.23" fill="none" stroke="#FF0000" stroke-width="1" />
<polyline points="3.03,214.13 13.93,209.53 25.53,203.73 37.13,194.43 51.13,188.63 65.03,182.83 74.33,180.53 85.93,179.33 97.53,182.13 109.13,186.33 116.13,189.73 130.03,191.43 143.93,193.73 162.53,196.73 176.43,200.23 190.43,203.23 204.33,203.73 218.23,206.53 232.23,208.53 246.13,211.83 260.03,214.13 273.93,215.33 290.23,215.33 301.83,218.33 315.73,219.93 329.73,222.23 343.63,225.73 362.23,229.93 376.13,236.23 385.43,242.03 394.73,247.33 400.03,253.43 409.33,260.43 420.93,268.53 434.83,275.53 458.03,287.13 481.33,299.83 497.53,309.13 511.43,316.13 520.73,317.63 528.03,318.53 540.03,318.53 546.03,316.83 550.93,316.13 562.53,315.43 576.43,316.13 585.73,315.43 599.73,316.13 632.23,316.53 660.03,317.23 668.03,318.53 705.03,318.53 711.13,317.63 720.43,317.83 735.03,318.63 743.63,320.33 762.23,324.23 776.13,327.23 785.43,329.33 800.03,329.43 823.23,328.73 846.43,324.53 869.63,324.53 892.93,325.23 916.13,325.93 939.33,327.03 962.53,327.53 985.73,327.53 1008.93,327.03 1032.23,327.03 1055.43,326.33 1073.93,329.43 1090.23,330.33 1101.83,329.83 1125.03,327.53 1143.63,327.03 1162.23,329.83 1180.73,332.63 1200.03,336.03 1217.03,337.73 1234.13,341.13 1251.23,344.53 1268.33,345.43 1291.03,345.43 1313.83,343.43 1336.53,339.73 1353.63,336.83 1376.33,336.03 1399.13,333.13 1421.83,330.33 1444.63,328.33 1467.33,326.03 1480.03,326.53 1496.03,326.83 1512.03,328.73 1528.33,331.93 1544.43,335.63 1555.23,338.93 1558.63,340.03 1576.63,347.63 1593.63,356.13 1612.53,365.63 1631.53,374.13 1646.63,380.73 1659.03,386.43" fill="none" stroke="#FF00FF" stroke-width="1" />
<polyline points="3.13,91.73 12.33,84.33 22.13,79.23 28.23,78.43 36.83,78.43 44.13,76.33 51.53,77.23 61.33,79.43 71.13,84.33 79.73,90.43 85.83,95.33 90.73,103.93 98.03,117.43 104.23,128.43 110.33,148.03 114.63,160.03 120.73,171.23 130.03,190.93 139.33,211.83 148.63,236.23 153.23,242.33 162.53,251.63 171.83,266.73 181.13,281.83 190.43,294.63 199.73,307.33 208.93,320.13 218.23,328.23 227.53,341.03 236.83,350.33 246.13,358.43 253.03,362.63 260.03,361.93 267.03,357.23 276.33,352.63 283.23,339.83 294.83,329.43 306.43,320.13 318.03,305.03 329.73,291.13 343.63,273.73 355.23,264.43 371.43,257.43 385.43,256.33 394.73,258.63 409.03,259.43 423.23,259.23 442.93,258.03 455.73,265.03 463.83,273.13 474.33,282.43 485.93,294.03 497.53,308.03 509.13,319.63 520.73,330.03 530.03,338.13 539.33,345.13 548.63,349.33 560.23,349.73 571.83,353.23 585.73,355.13 597.33,359.03 611.33,366.03 622.93,367.23 634.53,361.33 648.43,360.23 664.73,360.23 676.33,362.53 685.53,364.43 692.53,362.53 706.43,356.73 720.43,349.73 729.73,342.83 741.33,335.83 755.23,330.03 769.13,319.63 780.73,309.13 790.03,303.33 800.03,297.33 818.63,289.23 834.83,281.13 846.43,275.33 855.73,272.53 867.33,272.93 881.33,277.63 897.53,285.33 909.13,292.73 925.43,300.83 943.93,310.13 957.93,321.73 971.83,333.33 985.73,343.83 1004.33,354.23 1022.93,362.33 1036.83,364.23 1050.73,369.83 1064.73,370.53 1078.63,370.93 1092.53,370.93 1106.43,368.13 1125.03,363.53 1143.63,358.83 1162.23,355.43 1180.73,351.93 1200.03,346.23 1217.03,341.13 1234.13,336.03 1251.23,329.73 1268.33,323.53 1285.33,319.83 1302.43,316.13 1319.53,312.73 1336.53,308.43 1353.63,304.73 1370.63,305.63 1387.73,304.73 1404.83,304.73 1421.83,306.43 1438.93,307.53 1456.03,312.13 1473.03,314.13 1480.03,319.53 1486.43,325.43 1492.93,330.83 1501.53,337.23 1506.53,340.03 1516.03,349.03 1524.53,356.13 1542.53,367.53 1557.63,379.83 1571.83,394.03 1583.23,408.23 1591.73,423.33 1601.23,436.63 1612.53,451.73 1623.93,466.93 1633.43,480.13 1642.83,489.63 1659.03,498.43" fill="none" stroke="#FFA500" stroke-width="1" />
</g>
<g shape-rendering="crispEdges">
<rect x="3" y="149" width="1680" height="2" fill="#FF0000"/>
<rect x="3" y="240" width="1680" height="2" fill="#FF0000"/>
<rect x="3" y="318" width="1680" height="2" fill="#FF0000"/>
<rect x="3" y="422" width="1680" height="2" fill="#FF0000"/>
<rect x="3" y="539" width="1680" height="2" fill="#00FF7F"/>
</g>
<g class="tk" font-family="'Liberation Sans', Arial, sans-serif" font-size="9.2" fill="#000">
<rect x="1684" y="65" width="2" height="1" fill="#000"/>
<text x="1689" y="69">2047.65</text>
<rect x="1684" y="98" width="2" height="1" fill="#000"/>
<text x="1689" y="102">2035.05</text>
<rect x="1684" y="131" width="2" height="1" fill="#000"/>
<text x="1689" y="135">2022.45</text>
<rect x="1684" y="164" width="2" height="1" fill="#000"/>
<text x="1689" y="168">2009.50</text>
<rect x="1684" y="197" width="2" height="1" fill="#000"/>
<text x="1689" y="201">1996.90</text>
<rect x="1684" y="230" width="2" height="1" fill="#000"/>
<text x="1689" y="234">1984.30</text>
<rect x="1684" y="263" width="2" height="1" fill="#000"/>
<text x="1689" y="267">1971.70</text>
<rect x="1684" y="296" width="2" height="1" fill="#000"/>
<text x="1689" y="300">1958.75</text>
<rect x="1684" y="329" width="2" height="1" fill="#000"/>
<text x="1689" y="333">1946.15</text>
<rect x="1684" y="362" width="2" height="1" fill="#000"/>
<text x="1689" y="366">1933.55</text>
<rect x="1684" y="395" width="2" height="1" fill="#000"/>
<text x="1689" y="399">1920.60</text>
<rect x="1684" y="428" width="2" height="1" fill="#000"/>
<text x="1689" y="432">1908.00</text>
<rect x="1684" y="461" width="2" height="1" fill="#000"/>
<text x="1689" y="465">1895.40</text>
<rect x="1684" y="494" width="2" height="1" fill="#000"/>
<text x="1689" y="498">1882.80</text>
<rect x="1684" y="527" width="2" height="1" fill="#000"/>
<text x="1689" y="531">1869.85</text>
<rect x="1684" y="560" width="2" height="1" fill="#000"/>
<text x="1689" y="564">1857.25</text>
<rect x="1684" y="593" width="2" height="1" fill="#000"/>
<text x="1689" y="597">1844.65</text>
</g>
<g font-family="'Liberation Sans', Arial, sans-serif" font-size="9.2">
<rect x="1685" y="144" width="38" height="11" fill="#FF0000"/><text x="1689" y="153" fill="#FFF" stroke="#FFF" stroke-width="0.2">2015.00</text>
<rect x="1685" y="235" width="38" height="11" fill="#FF0000"/><text x="1689" y="244" fill="#FFF" stroke="#FFF" stroke-width="0.2">1980.00</text>
<rect x="1685" y="313" width="38" height="11" fill="#FF0000"/><text x="1689" y="322" fill="#FFF" stroke="#FFF" stroke-width="0.2">1950.00</text>
<rect x="1685" y="417" width="38" height="11" fill="#FF0000"/><text x="1689" y="426" fill="#FFF" stroke="#FFF" stroke-width="0.2">1910.00</text>
<rect x="1685" y="529" width="38" height="11" fill="#000"/><text x="1689" y="538" fill="#FFF" stroke="#FFF" stroke-width="0.2">1867.33</text>
<rect x="1685" y="534" width="38" height="11" fill="#00FF7F"/><text x="1689" y="543" fill="#FFF" stroke="#FFF" stroke-width="0.2">1865.00</text>
</g>
<polygon points="6,39 13,39 9.5,43" fill="#000"/>
<g class="tk" font-family="'Liberation Sans', Arial, sans-serif" font-size="9.2" fill="#000">
<text x="18" y="44" textLength="57.6" lengthAdjust="spacing">XAUUSD-,H4</text>
<text x="80.7" y="44" textLength="33.4" lengthAdjust="spacing">1867.14</text>
<text x="116.6" y="44" textLength="33.4" lengthAdjust="spacing">1869.23</text>
<text x="152.4" y="44" textLength="33.4" lengthAdjust="spacing">1865.85</text>
<text x="188.5" y="44" textLength="33.4" lengthAdjust="spacing">1867.33</text>
</g>
<text x="923.5" y="503" font-family="'Liberation Sans', 'Noto Sans CJK SC', sans-serif" font-size="35" fill="#E8141E" textLength="167" lengthAdjust="spacing">多空转折点</text>
<text x="1091.5" y="501.5" font-family="'Liberation Sans', 'Noto Sans CJK SC', sans-serif" font-size="35.5" fill="#E8141E" textLength="74" lengthAdjust="spacingAndGlyphs">1865</text>
<g clip-path="url(#cmacd)" shape-rendering="crispEdges">
<rect x="3" y="624" width="1" height="46" fill="#C0C0C0"/>
<rect x="11" y="631" width="1" height="39" fill="#C0C0C0"/>
<rect x="19" y="637" width="1" height="33" fill="#C0C0C0"/>
<rect x="27" y="641" width="1" height="29" fill="#C0C0C0"/>
<rect x="35" y="645" width="1" height="25" fill="#C0C0C0"/>
<rect x="43" y="647" width="1" height="23" fill="#C0C0C0"/>
<rect x="51" y="652" width="1" height="18" fill="#C0C0C0"/>
<rect x="59" y="655" width="1" height="15" fill="#C0C0C0"/>
<rect x="67" y="659" width="1" height="11" fill="#C0C0C0"/>
<rect x="83" y="669" width="1" height="9" fill="#C0C0C0"/>
<rect x="91" y="669" width="1" height="25" fill="#C0C0C0"/>
<rect x="99" y="669" width="1" height="43" fill="#C0C0C0"/>
<rect x="107" y="669" width="1" height="59" fill="#C0C0C0"/>
<rect x="115" y="669" width="1" height="76" fill="#C0C0C0"/>
<rect x="123" y="669" width="1" height="77" fill="#C0C0C0"/>
<rect x="131" y="669" width="1" height="78" fill="#C0C0C0"/>
<rect x="139" y="669" width="1" height="77" fill="#C0C0C0"/>
<rect x="147" y="669" width="1" height="80" fill="#C0C0C0"/>
<rect x="155" y="669" width="1" height="80" fill="#C0C0C0"/>
<rect x="163" y="669" width="1" height="76" fill="#C0C0C0"/>
<rect x="171" y="669" width="1" height="75" fill="#C0C0C0"/>
<rect x="179" y="669" width="1" height="69" fill="#C0C0C0"/>
<rect x="187" y="669" width="1" height="64" fill="#C0C0C0"/>
<rect x="195" y="669" width="1" height="55" fill="#C0C0C0"/>
<rect x="203" y="669" width="1" height="48" fill="#C0C0C0"/>
<rect x="211" y="669" width="1" height="44" fill="#C0C0C0"/>
<rect x="219" y="669" width="1" height="39" fill="#C0C0C0"/>
<rect x="227" y="669" width="1" height="37" fill="#C0C0C0"/>
<rect x="235" y="669" width="1" height="34" fill="#C0C0C0"/>
<rect x="243" y="669" width="1" height="32" fill="#C0C0C0"/>
<rect x="251" y="669" width="1" height="32" fill="#C0C0C0"/>
<rect x="259" y="669" width="1" height="30" fill="#C0C0C0"/>
<rect x="267" y="669" width="1" height="27" fill="#C0C0C0"/>
<rect x="275" y="669" width="1" height="22" fill="#C0C0C0"/>
<rect x="283" y="669" width="1" height="11" fill="#C0C0C0"/>
<rect x="291" y="669" width="1" height="3" fill="#C0C0C0"/>
<rect x="299" y="667" width="1" height="3" fill="#C0C0C0"/>
<rect x="307" y="661" width="1" height="9" fill="#C0C0C0"/>
<rect x="315" y="653" width="1" height="17" fill="#C0C0C0"/>
<rect x="323" y="646" width="1" height="24" fill="#C0C0C0"/>
<rect x="331" y="642" width="1" height="28" fill="#C0C0C0"/>
<rect x="339" y="639" width="1" height="31" fill="#C0C0C0"/>
<rect x="347" y="637" width="1" height="33" fill="#C0C0C0"/>
<rect x="355" y="638" width="1" height="32" fill="#C0C0C0"/>
<rect x="363" y="641" width="1" height="29" fill="#C0C0C0"/>
<rect x="371" y="643" width="1" height="27" fill="#C0C0C0"/>
<rect x="379" y="651" width="1" height="19" fill="#C0C0C0"/>
<rect x="387" y="662" width="1" height="8" fill="#C0C0C0"/>
<rect x="395" y="669" width="1" height="4" fill="#C0C0C0"/>
<rect x="403" y="669" width="1" height="8" fill="#C0C0C0"/>
<rect x="411" y="669" width="1" height="15" fill="#C0C0C0"/>
<rect x="419" y="669" width="1" height="19" fill="#C0C0C0"/>
<rect x="427" y="669" width="1" height="20" fill="#C0C0C0"/>
<rect x="435" y="669" width="1" height="20" fill="#C0C0C0"/>
<rect x="443" y="669" width="1" height="19" fill="#C0C0C0"/>
<rect x="451" y="669" width="1" height="19" fill="#C0C0C0"/>
<rect x="459" y="669" width="1" height="20" fill="#C0C0C0"/>
<rect x="467" y="669" width="1" height="27" fill="#C0C0C0"/>
<rect x="475" y="669" width="1" height="27" fill="#C0C0C0"/>
<rect x="483" y="669" width="1" height="26" fill="#C0C0C0"/>
<rect x="491" y="669" width="1" height="26" fill="#C0C0C0"/>
<rect x="499" y="669" width="1" height="27" fill="#C0C0C0"/>
<rect x="507" y="669" width="1" height="25" fill="#C0C0C0"/>
<rect x="515" y="669" width="1" height="21" fill="#C0C0C0"/>
<rect x="523" y="669" width="1" height="22" fill="#C0C0C0"/>
<rect x="531" y="669" width="1" height="24" fill="#C0C0C0"/>
<rect x="539" y="669" width="1" height="24" fill="#C0C0C0"/>
<rect x="547" y="669" width="1" height="24" fill="#C0C0C0"/>
<rect x="555" y="669" width="1" height="21" fill="#C0C0C0"/>
<rect x="563" y="669" width="1" height="22" fill="#C0C0C0"/>
<rect x="571" y="669" width="1" height="24" fill="#C0C0C0"/>
<rect x="579" y="669" width="1" height="24" fill="#C0C0C0"/>
<rect x="587" y="669" width="1" height="22" fill="#C0C0C0"/>
<rect x="595" y="669" width="1" height="22" fill="#C0C0C0"/>
<rect x="603" y="669" width="1" height="22" fill="#C0C0C0"/>
<rect x="611" y="669" width="1" height="22" fill="#C0C0C0"/>
<rect x="619" y="669" width="1" height="20" fill="#C0C0C0"/>
<rect x="627" y="669" width="1" height="14" fill="#C0C0C0"/>
<rect x="635" y="669" width="1" height="7" fill="#C0C0C0"/>
<rect x="643" y="669" width="1" height="5" fill="#C0C0C0"/>
<rect x="651" y="669" width="1" height="3" fill="#C0C0C0"/>
<rect x="659" y="669" width="1" height="2" fill="#C0C0C0"/>
<rect x="667" y="669" width="1" height="4" fill="#C0C0C0"/>
<rect x="675" y="669" width="1" height="6" fill="#C0C0C0"/>
<rect x="683" y="669" width="1" height="7" fill="#C0C0C0"/>
<rect x="691" y="669" width="1" height="5" fill="#C0C0C0"/>
<rect x="699" y="669" width="1" height="2" fill="#C0C0C0"/>
<rect x="707" y="666" width="1" height="4" fill="#C0C0C0"/>
<rect x="715" y="661" width="1" height="9" fill="#C0C0C0"/>
<rect x="723" y="657" width="1" height="13" fill="#C0C0C0"/>
<rect x="731" y="652" width="1" height="18" fill="#C0C0C0"/>
<rect x="739" y="650" width="1" height="20" fill="#C0C0C0"/>
<rect x="747" y="651" width="1" height="19" fill="#C0C0C0"/>
<rect x="755" y="650" width="1" height="20" fill="#C0C0C0"/>
<rect x="763" y="649" width="1" height="21" fill="#C0C0C0"/>
<rect x="771" y="648" width="1" height="22" fill="#C0C0C0"/>
<rect x="779" y="647" width="1" height="23" fill="#C0C0C0"/>
<rect x="787" y="645" width="1" height="25" fill="#C0C0C0"/>
<rect x="795" y="641" width="1" height="29" fill="#C0C0C0"/>
<rect x="803" y="639" width="1" height="31" fill="#C0C0C0"/>
<rect x="811" y="641" width="1" height="29" fill="#C0C0C0"/>
<rect x="819" y="644" width="1" height="26" fill="#C0C0C0"/>
<rect x="827" y="645" width="1" height="25" fill="#C0C0C0"/>
<rect x="835" y="649" width="1" height="21" fill="#C0C0C0"/>
<rect x="843" y="653" width="1" height="17" fill="#C0C0C0"/>
<rect x="851" y="656" width="1" height="14" fill="#C0C0C0"/>
<rect x="859" y="663" width="1" height="7" fill="#C0C0C0"/>
<rect x="867" y="668" width="1" height="2" fill="#C0C0C0"/>
<rect x="883" y="669" width="1" height="4" fill="#C0C0C0"/>
<rect x="891" y="669" width="1" height="9" fill="#C0C0C0"/>
<rect x="899" y="669" width="1" height="12" fill="#C0C0C0"/>
<rect x="907" y="669" width="1" height="17" fill="#C0C0C0"/>
<rect x="915" y="669" width="1" height="19" fill="#C0C0C0"/>
<rect x="923" y="669" width="1" height="22" fill="#C0C0C0"/>
<rect x="931" y="669" width="1" height="21" fill="#C0C0C0"/>
<rect x="939" y="669" width="1" height="21" fill="#C0C0C0"/>
<rect x="947" y="669" width="1" height="20" fill="#C0C0C0"/>
<rect x="955" y="669" width="1" height="22" fill="#C0C0C0"/>
<rect x="963" y="669" width="1" height="21" fill="#C0C0C0"/>
<rect x="971" y="669" width="1" height="20" fill="#C0C0C0"/>
<rect x="979" y="669" width="1" height="19" fill="#C0C0C0"/>
<rect x="987" y="669" width="1" height="19" fill="#C0C0C0"/>
<rect x="995" y="669" width="1" height="19" fill="#C0C0C0"/>
<rect x="1003" y="669" width="1" height="19" fill="#C0C0C0"/>
<rect x="1011" y="669" width="1" height="19" fill="#C0C0C0"/>
<rect x="1019" y="669" width="1" height="17" fill="#C0C0C0"/>
<rect x="1027" y="669" width="1" height="18" fill="#C0C0C0"/>
<rect x="1035" y="669" width="1" height="19" fill="#C0C0C0"/>
<rect x="1043" y="669" width="1" height="19" fill="#C0C0C0"/>
<rect x="1051" y="669" width="1" height="18" fill="#C0C0C0"/>
<rect x="1059" y="669" width="1" height="17" fill="#C0C0C0"/>
<rect x="1067" y="669" width="1" height="15" fill="#C0C0C0"/>
<rect x="1075" y="669" width="1" height="14" fill="#C0C0C0"/>
<rect x="1083" y="669" width="1" height="12" fill="#C0C0C0"/>
<rect x="1091" y="669" width="1" height="12" fill="#C0C0C0"/>
<rect x="1099" y="669" width="1" height="9" fill="#C0C0C0"/>
<rect x="1107" y="669" width="1" height="4" fill="#C0C0C0"/>
<rect x="1131" y="667" width="1" height="3" fill="#C0C0C0"/>
<rect x="1139" y="665" width="1" height="5" fill="#C0C0C0"/>
<rect x="1147" y="661" width="1" height="9" fill="#C0C0C0"/>
<rect x="1155" y="662" width="1" height="8" fill="#C0C0C0"/>
<rect x="1163" y="662" width="1" height="8" fill="#C0C0C0"/>
<rect x="1171" y="663" width="1" height="7" fill="#C0C0C0"/>
<rect x="1179" y="664" width="1" height="6" fill="#C0C0C0"/>
<rect x="1187" y="664" width="1" height="6" fill="#C0C0C0"/>
<rect x="1195" y="664" width="1" height="6" fill="#C0C0C0"/>
<rect x="1203" y="664" width="1" height="6" fill="#C0C0C0"/>
<rect x="1211" y="665" width="1" height="5" fill="#C0C0C0"/>
<rect x="1219" y="664" width="1" height="6" fill="#C0C0C0"/>
<rect x="1227" y="664" width="1" height="6" fill="#C0C0C0"/>
<rect x="1235" y="665" width="1" height="5" fill="#C0C0C0"/>
<rect x="1243" y="662" width="1" height="8" fill="#C0C0C0"/>
<rect x="1251" y="660" width="1" height="10" fill="#C0C0C0"/>
<rect x="1259" y="660" width="1" height="10" fill="#C0C0C0"/>
<rect x="1267" y="656" width="1" height="14" fill="#C0C0C0"/>
<rect x="1275" y="655" width="1" height="15" fill="#C0C0C0"/>
<rect x="1283" y="653" width="1" height="17" fill="#C0C0C0"/>
<rect x="1291" y="655" width="1" height="15" fill="#C0C0C0"/>
<rect x="1299" y="657" width="1" height="13" fill="#C0C0C0"/>
<rect x="1307" y="658" width="1" height="12" fill="#C0C0C0"/>
<rect x="1315" y="658" width="1" height="12" fill="#C0C0C0"/>
<rect x="1323" y="656" width="1" height="14" fill="#C0C0C0"/>
<rect x="1331" y="656" width="1" height="14" fill="#C0C0C0"/>
<rect x="1339" y="655" width="1" height="15" fill="#C0C0C0"/>
<rect x="1347" y="656" width="1" height="14" fill="#C0C0C0"/>
<rect x="1355" y="658" width="1" height="12" fill="#C0C0C0"/>
<rect x="1363" y="663" width="1" height="7" fill="#C0C0C0"/>
<rect x="1371" y="666" width="1" height="4" fill="#C0C0C0"/>
<rect x="1379" y="668" width="1" height="2" fill="#C0C0C0"/>
<rect x="1403" y="669" width="1" height="2" fill="#C0C0C0"/>
<rect x="1411" y="669" width="1" height="1" fill="#C0C0C0"/>
<rect x="1475" y="669" width="1" height="5" fill="#C0C0C0"/>
<rect x="1483" y="669" width="1" height="16" fill="#C0C0C0"/>
<rect x="1491" y="669" width="1" height="21" fill="#C0C0C0"/>
<rect x="1499" y="669" width="1" height="24" fill="#C0C0C0"/>
<rect x="1507" y="669" width="1" height="27" fill="#C0C0C0"/>
<rect x="1515" y="669" width="1" height="32" fill="#C0C0C0"/>
<rect x="1523" y="669" width="1" height="33" fill="#C0C0C0"/>
<rect x="1531" y="669" width="1" height="36" fill="#C0C0C0"/>
<rect x="1539" y="669" width="1" height="37" fill="#C0C0C0"/>
<rect x="1547" y="669" width="1" height="37" fill="#C0C0C0"/>
<rect x="1555" y="669" width="1" height="39" fill="#C0C0C0"/>
<rect x="1563" y="669" width="1" height="44" fill="#C0C0C0"/>
<rect x="1571" y="669" width="1" height="46" fill="#C0C0C0"/>
<rect x="1579" y="669" width="1" height="51" fill="#C0C0C0"/>
<rect x="1587" y="669" width="1" height="55" fill="#C0C0C0"/>
<rect x="1595" y="669" width="1" height="59" fill="#C0C0C0"/>
<rect x="1603" y="669" width="1" height="61" fill="#C0C0C0"/>
<rect x="1611" y="669" width="1" height="61" fill="#C0C0C0"/>
<rect x="1619" y="669" width="1" height="61" fill="#C0C0C0"/>
<rect x="1627" y="669" width="1" height="56" fill="#C0C0C0"/>
<rect x="1635" y="669" width="1" height="54" fill="#C0C0C0"/>
<rect x="1643" y="669" width="1" height="52" fill="#C0C0C0"/>
<rect x="1651" y="669" width="1" height="49" fill="#C0C0C0"/>
<rect x="1659" y="669" width="1" height="47" fill="#C0C0C0"/>
</g>
<g clip-path="url(#cmacd)" shape-rendering="crispEdges"><path d="M3 607h1v1h-1zM4 607h1v1h-1zM5 608h1v1h-1zM9 609h1v1h-1zM10 609h1v1h-1zM11 610h1v1h-1zM15 611h1v1h-1zM16 612h1v1h-1zM17 612h1v1h-1zM21 615h1v1h-1zM22 616h1v1h-1zM23 616h1v1h-1zM27 619h1v1h-1zM28 620h1v1h-1zM29 620h1v1h-1zM33 623h1v1h-1zM34 623h1v1h-1zM35 624h1v1h-1zM39 626h1v1h-1zM40 626h1v1h-1zM41 627h1v1h-1zM45 629h1v1h-1zM46 629h1v1h-1zM47 630h1v1h-1zM51 633h1v1h-1zM52 633h1v1h-1zM53 634h1v1h-1zM57 637h1v1h-1zM58 637h1v1h-1zM59 638h1v1h-1zM63 640h1v1h-1zM64 641h1v1h-1zM65 642h1v1h-1zM69 644h1v1h-1zM70 645h1v1h-1zM71 645h1v1h-1zM75 648h1v1h-1zM76 648h1v1h-1zM77 649h1v1h-1zM81 652h1v1h-1zM82 652h1v1h-1zM83 653h1v1h-1zM87 656h1v1h-1zM88 656h1v1h-1zM89 657h1v1h-1zM93 661h1v1h-1zM94 662h1v1h-1zM94 663h1v1h-1zM98 667h1v1h-1zM99 668h1v1h-1zM100 669h1v1h-1zM104 673h1v1h-1zM105 674h1v1h-1zM106 675h1v1h-1zM110 679h1v1h-1zM110 680h1v1h-1zM111 681h1v1h-1zM114 685h1v1h-1zM114 686h1v1h-1zM115 687h1v1h-1zM118 691h1v1h-1zM118 692h1v1h-1zM119 693h1v1h-1zM122 697h1v1h-1zM123 698h1v1h-1zM124 699h1v1h-1zM128 703h1v1h-1zM129 704h1v1h-1zM129 705h1v1h-1zM133 709h1v1h-1zM134 710h1v1h-1zM134 711h1v1h-1zM138 715h1v1h-1zM138 716h1v1h-1zM139 717h1v1h-1zM142 721h1v1h-1zM143 722h1v1h-1zM144 723h1v1h-1zM148 727h1v1h-1zM149 728h1v1h-1zM149 729h1v1h-1zM153 733h1v1h-1zM154 734h1v1h-1zM155 735h1v1h-1zM159 738h1v1h-1zM160 739h1v1h-1zM161 739h1v1h-1zM165 741h1v1h-1zM166 741h1v1h-1zM167 742h1v1h-1zM171 743h1v1h-1zM172 743h1v1h-1zM173 744h1v1h-1zM177 744h1v1h-1zM178 744h1v1h-1zM179 744h1v1h-1zM183 743h1v1h-1zM184 743h1v1h-1zM185 743h1v1h-1zM189 743h1v1h-1zM190 743h1v1h-1zM191 742h1v1h-1zM195 741h1v1h-1zM196 740h1v1h-1zM197 740h1v1h-1zM201 738h1v1h-1zM202 738h1v1h-1zM203 737h1v1h-1zM207 736h1v1h-1zM208 735h1v1h-1zM209 735h1v1h-1zM213 733h1v1h-1zM214 732h1v1h-1zM215 732h1v1h-1zM219 730h1v1h-1zM220 729h1v1h-1zM221 729h1v1h-1zM225 727h1v1h-1zM226 726h1v1h-1zM227 726h1v1h-1zM231 724h1v1h-1zM232 723h1v1h-1zM233 723h1v1h-1zM237 720h1v1h-1zM238 720h1v1h-1zM239 719h1v1h-1zM243 717h1v1h-1zM244 716h1v1h-1zM245 715h1v1h-1zM249 713h1v1h-1zM250 713h1v1h-1zM251 712h1v1h-1zM255 711h1v1h-1zM256 710h1v1h-1zM257 710h1v1h-1zM261 708h1v1h-1zM262 708h1v1h-1zM263 707h1v1h-1zM267 705h1v1h-1zM268 705h1v1h-1zM269 704h1v1h-1zM273 702h1v1h-1zM274 702h1v1h-1zM275 701h1v1h-1zM279 699h1v1h-1zM280 699h1v1h-1zM281 698h1v1h-1zM285 696h1v1h-1zM286 696h1v1h-1zM287 695h1v1h-1zM291 693h1v1h-1zM292 693h1v1h-1zM293 692h1v1h-1zM297 690h1v1h-1zM298 690h1v1h-1zM299 689h1v1h-1zM303 687h1v1h-1zM304 686h1v1h-1zM305 685h1v1h-1zM309 683h1v1h-1zM310 682h1v1h-1zM311 682h1v1h-1zM315 679h1v1h-1zM316 678h1v1h-1zM317 677h1v1h-1zM321 674h1v1h-1zM322 673h1v1h-1zM323 673h1v1h-1zM327 669h1v1h-1zM328 669h1v1h-1zM329 668h1v1h-1zM333 664h1v1h-1zM334 663h1v1h-1zM335 662h1v1h-1zM339 659h1v1h-1zM340 658h1v1h-1zM341 658h1v1h-1zM345 655h1v1h-1zM346 654h1v1h-1zM347 654h1v1h-1zM351 651h1v1h-1zM352 650h1v1h-1zM353 650h1v1h-1zM357 648h1v1h-1zM358 648h1v1h-1zM359 647h1v1h-1zM363 646h1v1h-1zM364 646h1v1h-1zM365 645h1v1h-1zM369 644h1v1h-1zM370 644h1v1h-1zM371 643h1v1h-1zM375 642h1v1h-1zM376 642h1v1h-1zM377 642h1v1h-1zM381 643h1v1h-1zM382 643h1v1h-1zM383 643h1v1h-1zM387 644h1v1h-1zM388 644h1v1h-1zM389 644h1v1h-1zM393 646h1v1h-1zM394 646h1v1h-1zM395 646h1v1h-1zM399 648h1v1h-1zM400 648h1v1h-1zM401 649h1v1h-1zM405 651h1v1h-1zM406 651h1v1h-1zM407 652h1v1h-1zM411 654h1v1h-1zM412 655h1v1h-1zM413 655h1v1h-1zM417 658h1v1h-1zM418 658h1v1h-1zM419 659h1v1h-1zM423 663h1v1h-1zM424 664h1v1h-1zM425 664h1v1h-1zM429 668h1v1h-1zM430 669h1v1h-1zM431 670h1v1h-1zM435 673h1v1h-1zM436 674h1v1h-1zM437 675h1v1h-1zM441 677h1v1h-1zM442 677h1v1h-1zM443 677h1v1h-1zM447 679h1v1h-1zM448 679h1v1h-1zM449 680h1v1h-1zM453 681h1v1h-1zM454 682h1v1h-1zM455 682h1v1h-1zM459 684h1v1h-1zM460 685h1v1h-1zM461 685h1v1h-1zM465 687h1v1h-1zM466 688h1v1h-1zM467 688h1v1h-1zM471 689h1v1h-1zM472 689h1v1h-1zM473 689h1v1h-1zM477 690h1v1h-1zM478 690h1v1h-1zM479 690h1v1h-1zM483 691h1v1h-1zM484 691h1v1h-1zM485 691h1v1h-1zM489 692h1v1h-1zM490 692h1v1h-1zM491 692h1v1h-1zM495 692h1v1h-1zM496 692h1v1h-1zM497 692h1v1h-1zM501 692h1v1h-1zM502 692h1v1h-1zM503 692h1v1h-1zM507 693h1v1h-1zM508 693h1v1h-1zM509 693h1v1h-1zM513 693h1v1h-1zM514 693h1v1h-1zM515 693h1v1h-1zM519 693h1v1h-1zM520 693h1v1h-1zM521 693h1v1h-1zM525 693h1v1h-1zM526 693h1v1h-1zM527 693h1v1h-1zM531 693h1v1h-1zM532 693h1v1h-1zM533 693h1v1h-1zM537 693h1v1h-1zM538 693h1v1h-1zM539 693h1v1h-1zM543 693h1v1h-1zM544 693h1v1h-1zM545 693h1v1h-1zM549 693h1v1h-1zM550 693h1v1h-1zM551 692h1v1h-1zM555 692h1v1h-1zM556 692h1v1h-1zM557 692h1v1h-1zM561 692h1v1h-1zM562 692h1v1h-1zM563 692h1v1h-1zM567 692h1v1h-1zM568 692h1v1h-1zM569 692h1v1h-1zM573 692h1v1h-1zM574 692h1v1h-1zM575 692h1v1h-1zM579 692h1v1h-1zM580 692h1v1h-1zM581 692h1v1h-1zM585 692h1v1h-1zM586 692h1v1h-1zM587 692h1v1h-1zM591 692h1v1h-1zM592 692h1v1h-1zM593 692h1v1h-1zM597 692h1v1h-1zM598 692h1v1h-1zM599 692h1v1h-1zM603 692h1v1h-1zM604 692h1v1h-1zM605 692h1v1h-1zM609 692h1v1h-1zM610 692h1v1h-1zM611 692h1v1h-1zM615 692h1v1h-1zM616 692h1v1h-1zM617 692h1v1h-1zM621 692h1v1h-1zM622 692h1v1h-1zM623 692h1v1h-1zM627 690h1v1h-1zM628 690h1v1h-1zM629 690h1v1h-1zM633 689h1v1h-1zM634 689h1v1h-1zM635 688h1v1h-1zM639 688h1v1h-1zM640 688h1v1h-1zM641 687h1v1h-1zM645 687h1v1h-1zM646 686h1v1h-1zM647 686h1v1h-1zM651 685h1v1h-1zM652 685h1v1h-1zM653 684h1v1h-1zM657 683h1v1h-1zM658 682h1v1h-1zM659 682h1v1h-1zM663 680h1v1h-1zM664 680h1v1h-1zM665 680h1v1h-1zM669 679h1v1h-1zM670 679h1v1h-1zM671 678h1v1h-1zM675 677h1v1h-1zM676 677h1v1h-1zM677 677h1v1h-1zM681 676h1v1h-1zM682 676h1v1h-1zM683 675h1v1h-1zM687 675h1v1h-1zM688 675h1v1h-1zM689 674h1v1h-1zM693 674h1v1h-1zM694 674h1v1h-1zM695 674h1v1h-1zM699 673h1v1h-1zM700 673h1v1h-1zM701 673h1v1h-1zM705 672h1v1h-1zM706 672h1v1h-1zM707 672h1v1h-1zM711 671h1v1h-1zM712 671h1v1h-1zM713 671h1v1h-1zM717 670h1v1h-1zM718 670h1v1h-1zM719 670h1v1h-1zM723 669h1v1h-1zM724 669h1v1h-1zM725 669h1v1h-1zM729 668h1v1h-1zM730 667h1v1h-1zM731 667h1v1h-1zM735 666h1v1h-1zM736 666h1v1h-1zM737 665h1v1h-1zM741 664h1v1h-1zM742 664h1v1h-1zM743 663h1v1h-1zM747 661h1v1h-1zM748 661h1v1h-1zM749 660h1v1h-1zM753 658h1v1h-1zM754 658h1v1h-1zM755 657h1v1h-1zM759 656h1v1h-1zM760 656h1v1h-1zM761 655h1v1h-1zM765 654h1v1h-1zM766 654h1v1h-1zM767 654h1v1h-1zM771 652h1v1h-1zM772 652h1v1h-1zM773 652h1v1h-1zM777 651h1v1h-1zM778 651h1v1h-1zM779 650h1v1h-1zM783 650h1v1h-1zM784 649h1v1h-1zM785 649h1v1h-1zM789 648h1v1h-1zM790 648h1v1h-1zM791 648h1v1h-1zM795 647h1v1h-1zM796 647h1v1h-1zM797 646h1v1h-1zM801 646h1v1h-1zM802 646h1v1h-1zM803 645h1v1h-1zM807 645h1v1h-1zM808 645h1v1h-1zM809 645h1v1h-1zM813 644h1v1h-1zM814 644h1v1h-1zM815 644h1v1h-1zM819 643h1v1h-1zM820 643h1v1h-1zM821 643h1v1h-1zM825 643h1v1h-1zM826 643h1v1h-1zM827 643h1v1h-1zM831 643h1v1h-1zM832 643h1v1h-1zM833 643h1v1h-1zM837 643h1v1h-1zM838 644h1v1h-1zM839 644h1v1h-1zM843 644h1v1h-1zM844 644h1v1h-1zM845 644h1v1h-1zM849 644h1v1h-1zM850 645h1v1h-1zM851 645h1v1h-1zM855 645h1v1h-1zM856 645h1v1h-1zM857 646h1v1h-1zM861 647h1v1h-1zM862 647h1v1h-1zM863 647h1v1h-1zM867 649h1v1h-1zM868 650h1v1h-1zM869 650h1v1h-1zM873 652h1v1h-1zM874 653h1v1h-1zM875 653h1v1h-1zM879 655h1v1h-1zM880 656h1v1h-1zM881 656h1v1h-1zM885 658h1v1h-1zM886 659h1v1h-1zM887 659h1v1h-1zM891 661h1v1h-1zM892 662h1v1h-1zM893 662h1v1h-1zM897 664h1v1h-1zM898 665h1v1h-1zM899 665h1v1h-1zM903 668h1v1h-1zM904 668h1v1h-1zM905 669h1v1h-1zM909 671h1v1h-1zM910 671h1v1h-1zM911 672h1v1h-1zM915 673h1v1h-1zM916 674h1v1h-1zM917 674h1v1h-1zM921 676h1v1h-1zM922 677h1v1h-1zM923 677h1v1h-1zM927 679h1v1h-1zM928 679h1v1h-1zM929 680h1v1h-1zM933 681h1v1h-1zM934 681h1v1h-1zM935 682h1v1h-1zM939 683h1v1h-1zM940 683h1v1h-1zM941 683h1v1h-1zM945 684h1v1h-1zM946 685h1v1h-1zM947 685h1v1h-1zM951 686h1v1h-1zM952 686h1v1h-1zM953 686h1v1h-1zM957 687h1v1h-1zM958 687h1v1h-1zM959 687h1v1h-1zM963 688h1v1h-1zM964 688h1v1h-1zM965 688h1v1h-1zM969 688h1v1h-1zM970 688h1v1h-1zM971 688h1v1h-1zM975 689h1v1h-1zM976 689h1v1h-1zM977 689h1v1h-1zM981 689h1v1h-1zM982 689h1v1h-1zM983 689h1v1h-1zM987 689h1v1h-1zM988 689h1v1h-1zM989 689h1v1h-1zM993 689h1v1h-1zM994 689h1v1h-1zM995 689h1v1h-1zM999 689h1v1h-1zM1000 689h1v1h-1zM1001 689h1v1h-1zM1005 689h1v1h-1zM1006 689h1v1h-1zM1007 689h1v1h-1zM1011 689h1v1h-1zM1012 689h1v1h-1zM1013 689h1v1h-1zM1017 688h1v1h-1zM1018 688h1v1h-1zM1019 688h1v1h-1zM1023 688h1v1h-1zM1024 688h1v1h-1zM1025 688h1v1h-1zM1029 688h1v1h-1zM1030 688h1v1h-1zM1031 688h1v1h-1zM1035 688h1v1h-1zM1036 688h1v1h-1zM1037 688h1v1h-1zM1041 687h1v1h-1zM1042 687h1v1h-1zM1043 687h1v1h-1zM1047 687h1v1h-1zM1048 687h1v1h-1zM1049 687h1v1h-1zM1053 687h1v1h-1zM1054 687h1v1h-1zM1055 687h1v1h-1zM1059 687h1v1h-1zM1060 687h1v1h-1zM1061 687h1v1h-1zM1065 686h1v1h-1zM1066 686h1v1h-1zM1067 686h1v1h-1zM1071 686h1v1h-1zM1072 686h1v1h-1zM1073 686h1v1h-1zM1077 686h1v1h-1zM1078 686h1v1h-1zM1079 686h1v1h-1zM1083 685h1v1h-1zM1084 685h1v1h-1zM1085 685h1v1h-1zM1089 685h1v1h-1zM1090 685h1v1h-1zM1091 685h1v1h-1zM1095 684h1v1h-1zM1096 684h1v1h-1zM1097 684h1v1h-1zM1101 683h1v1h-1zM1102 683h1v1h-1zM1103 683h1v1h-1zM1107 682h1v1h-1zM1108 681h1v1h-1zM1109 681h1v1h-1zM1113 680h1v1h-1zM1114 680h1v1h-1zM1115 680h1v1h-1zM1119 679h1v1h-1zM1120 679h1v1h-1zM1121 678h1v1h-1zM1125 677h1v1h-1zM1126 677h1v1h-1zM1127 677h1v1h-1zM1131 676h1v1h-1zM1132 675h1v1h-1zM1133 675h1v1h-1zM1137 674h1v1h-1zM1138 673h1v1h-1zM1139 673h1v1h-1zM1143 672h1v1h-1zM1144 672h1v1h-1zM1145 672h1v1h-1zM1149 671h1v1h-1zM1150 670h1v1h-1zM1151 670h1v1h-1zM1155 669h1v1h-1zM1156 669h1v1h-1zM1157 668h1v1h-1zM1161 667h1v1h-1zM1162 667h1v1h-1zM1163 666h1v1h-1zM1167 665h1v1h-1zM1168 665h1v1h-1zM1169 665h1v1h-1zM1173 664h1v1h-1zM1174 664h1v1h-1zM1175 664h1v1h-1zM1179 664h1v1h-1zM1180 664h1v1h-1zM1181 664h1v1h-1zM1185 663h1v1h-1zM1186 663h1v1h-1zM1187 663h1v1h-1zM1191 663h1v1h-1zM1192 663h1v1h-1zM1193 663h1v1h-1zM1197 662h1v1h-1zM1198 662h1v1h-1zM1199 662h1v1h-1zM1203 662h1v1h-1zM1204 662h1v1h-1zM1205 662h1v1h-1zM1209 662h1v1h-1zM1210 662h1v1h-1zM1211 662h1v1h-1zM1215 662h1v1h-1zM1216 662h1v1h-1zM1217 662h1v1h-1zM1221 663h1v1h-1zM1222 663h1v1h-1zM1223 663h1v1h-1zM1227 663h1v1h-1zM1228 663h1v1h-1zM1229 663h1v1h-1zM1233 663h1v1h-1zM1234 663h1v1h-1zM1235 663h1v1h-1zM1239 663h1v1h-1zM1240 663h1v1h-1zM1241 663h1v1h-1zM1245 662h1v1h-1zM1246 662h1v1h-1zM1247 662h1v1h-1zM1251 662h1v1h-1zM1252 662h1v1h-1zM1253 662h1v1h-1zM1257 661h1v1h-1zM1258 661h1v1h-1zM1259 661h1v1h-1zM1263 661h1v1h-1zM1264 661h1v1h-1zM1265 661h1v1h-1zM1269 660h1v1h-1zM1270 660h1v1h-1zM1271 660h1v1h-1zM1275 660h1v1h-1zM1276 660h1v1h-1zM1277 660h1v1h-1zM1281 659h1v1h-1zM1282 659h1v1h-1zM1283 659h1v1h-1zM1287 659h1v1h-1zM1288 658h1v1h-1zM1289 658h1v1h-1zM1293 658h1v1h-1zM1294 658h1v1h-1zM1295 658h1v1h-1zM1299 657h1v1h-1zM1300 657h1v1h-1zM1301 657h1v1h-1zM1305 656h1v1h-1zM1306 656h1v1h-1zM1307 656h1v1h-1zM1311 656h1v1h-1zM1312 656h1v1h-1zM1313 656h1v1h-1zM1317 656h1v1h-1zM1318 655h1v1h-1zM1319 655h1v1h-1zM1323 655h1v1h-1zM1324 655h1v1h-1zM1325 655h1v1h-1zM1329 655h1v1h-1zM1330 655h1v1h-1zM1331 655h1v1h-1zM1335 655h1v1h-1zM1336 655h1v1h-1zM1337 655h1v1h-1zM1341 655h1v1h-1zM1342 655h1v1h-1zM1343 655h1v1h-1zM1347 655h1v1h-1zM1348 655h1v1h-1zM1349 655h1v1h-1zM1353 656h1v1h-1zM1354 656h1v1h-1zM1355 656h1v1h-1zM1359 657h1v1h-1zM1360 657h1v1h-1zM1361 657h1v1h-1zM1365 657h1v1h-1zM1366 658h1v1h-1zM1367 658h1v1h-1zM1371 658h1v1h-1zM1372 658h1v1h-1zM1373 658h1v1h-1zM1377 659h1v1h-1zM1378 659h1v1h-1zM1379 659h1v1h-1zM1383 660h1v1h-1zM1384 660h1v1h-1zM1385 660h1v1h-1zM1389 660h1v1h-1zM1390 661h1v1h-1zM1391 661h1v1h-1zM1395 661h1v1h-1zM1396 661h1v1h-1zM1397 662h1v1h-1zM1401 662h1v1h-1zM1402 663h1v1h-1zM1403 663h1v1h-1zM1407 663h1v1h-1zM1408 664h1v1h-1zM1409 664h1v1h-1zM1413 665h1v1h-1zM1414 665h1v1h-1zM1415 665h1v1h-1zM1419 666h1v1h-1zM1420 666h1v1h-1zM1421 666h1v1h-1zM1425 667h1v1h-1zM1426 667h1v1h-1zM1427 667h1v1h-1zM1431 667h1v1h-1zM1432 668h1v1h-1zM1433 668h1v1h-1zM1437 668h1v1h-1zM1438 668h1v1h-1zM1439 668h1v1h-1zM1443 669h1v1h-1zM1444 669h1v1h-1zM1445 669h1v1h-1zM1449 669h1v1h-1zM1450 669h1v1h-1zM1451 669h1v1h-1zM1455 669h1v1h-1zM1456 669h1v1h-1zM1457 669h1v1h-1zM1461 669h1v1h-1zM1462 669h1v1h-1zM1463 669h1v1h-1zM1467 669h1v1h-1zM1468 669h1v1h-1zM1469 669h1v1h-1zM1473 670h1v1h-1zM1474 670h1v1h-1zM1475 670h1v1h-1zM1479 670h1v1h-1zM1480 671h1v1h-1zM1481 671h1v1h-1zM1485 672h1v1h-1zM1486 672h1v1h-1zM1487 673h1v1h-1zM1491 674h1v1h-1zM1492 674h1v1h-1zM1493 675h1v1h-1zM1497 676h1v1h-1zM1498 677h1v1h-1zM1499 677h1v1h-1zM1503 679h1v1h-1zM1504 679h1v1h-1zM1505 679h1v1h-1zM1509 681h1v1h-1zM1510 681h1v1h-1zM1511 682h1v1h-1zM1515 683h1v1h-1zM1516 684h1v1h-1zM1517 684h1v1h-1zM1521 685h1v1h-1zM1522 686h1v1h-1zM1523 686h1v1h-1zM1527 688h1v1h-1zM1528 688h1v1h-1zM1529 689h1v1h-1zM1533 691h1v1h-1zM1534 691h1v1h-1zM1535 692h1v1h-1zM1539 694h1v1h-1zM1540 694h1v1h-1zM1541 695h1v1h-1zM1545 696h1v1h-1zM1546 697h1v1h-1zM1547 697h1v1h-1zM1551 698h1v1h-1zM1552 699h1v1h-1zM1553 699h1v1h-1zM1557 701h1v1h-1zM1558 701h1v1h-1zM1559 701h1v1h-1zM1563 703h1v1h-1zM1564 703h1v1h-1zM1565 704h1v1h-1zM1569 705h1v1h-1zM1570 705h1v1h-1zM1571 706h1v1h-1zM1575 707h1v1h-1zM1576 708h1v1h-1zM1577 708h1v1h-1zM1581 709h1v1h-1zM1582 710h1v1h-1zM1583 710h1v1h-1zM1587 711h1v1h-1zM1588 711h1v1h-1zM1589 712h1v1h-1zM1593 713h1v1h-1zM1594 713h1v1h-1zM1595 714h1v1h-1zM1599 715h1v1h-1zM1600 715h1v1h-1zM1601 716h1v1h-1zM1605 717h1v1h-1zM1606 717h1v1h-1zM1607 717h1v1h-1zM1611 719h1v1h-1zM1612 719h1v1h-1zM1613 719h1v1h-1zM1617 721h1v1h-1zM1618 721h1v1h-1zM1619 722h1v1h-1zM1623 723h1v1h-1zM1624 723h1v1h-1zM1625 723h1v1h-1zM1629 724h1v1h-1zM1630 724h1v1h-1zM1631 724h1v1h-1zM1635 725h1v1h-1zM1636 725h1v1h-1zM1637 725h1v1h-1zM1641 725h1v1h-1zM1642 725h1v1h-1zM1643 725h1v1h-1zM1647 725h1v1h-1zM1648 725h1v1h-1zM1649 725h1v1h-1zM1653 725h1v1h-1zM1654 724h1v1h-1zM1655 724h1v1h-1z" fill="#FF0000"/></g>
<text class="tk" x="7.5" y="611" font-family="'Liberation Sans', Arial, sans-serif" font-size="9.2" fill="#000" textLength="132.3" lengthAdjust="spacing">MACD(12,26,9) -16.555 -19.831</text>
<g class="tk" font-family="'Liberation Sans', Arial, sans-serif" font-size="9.2" fill="#000">
<rect x="1684" y="600" width="2" height="1" fill="#000"/>
<text x="1687" y="609">25.076</text>
<rect x="1684" y="669" width="2" height="1" fill="#000"/>
<text x="1687" y="673">0.00</text>
<text x="1687" y="754">-31.238</text>
</g>
<g shape-rendering="crispEdges">
<line x1="4" y1="795.5" x2="1683" y2="795.5" stroke="#C0C0C0" stroke-width="1" stroke-dasharray="3 3"/>
<line x1="4" y1="840.5" x2="1683" y2="840.5" stroke="#C0C0C0" stroke-width="1" stroke-dasharray="3 3"/>
</g>
<g clip-path="url(#crsi)" shape-rendering="crispEdges"><polyline points="3.03,814.23 11.03,817.13 19.03,816.33 27.03,815.33 35.03,815.33 43.03,813.23 51.03,818.83 59.03,817.13 67.03,821.93 75.03,832.93 83.03,838.83 91.03,846.93 99.03,851.33 107.03,852.53 115.03,855.13 123.03,833.43 131.03,834.73 139.03,830.33 147.03,836.23 155.03,832.13 163.03,827.83 171.03,828.53 179.03,828.53 187.03,824.53 195.03,821.93 203.03,819.43 211.03,822.73 219.03,822.73 227.03,822.23 235.03,824.53 243.03,824.53 251.03,828.53 259.03,823.43 267.03,817.13 275.03,817.13 283.03,806.63 291.03,806.63 299.03,807.93 307.03,804.33 315.03,799.73 323.03,799.73 331.03,802.23 339.03,801.53 347.03,801.53 355.03,807.93 363.03,811.73 371.03,813.23 379.03,824.03 387.03,832.13 395.03,837.23 403.03,826.53 411.03,831.13 419.03,829.13 427.03,825.23 435.03,822.73 443.03,822.23 451.03,823.43 459.03,827.03 467.03,834.93 475.03,824.53 483.03,824.53 491.03,826.03 499.03,827.53 507.03,821.93 515.03,818.33 523.03,826.03 531.03,827.33 539.03,826.53 547.03,822.73 555.03,823.43 563.03,827.03 571.03,830.33 579.03,824.53 587.03,823.43 595.03,825.23 603.03,829.13 611.03,829.13 619.03,815.03 627.03,809.93 635.03,809.13 643.03,815.53 651.03,814.23 659.03,817.63 667.03,823.43 675.03,822.23 683.03,823.43 691.03,816.33 699.03,812.53 707.03,804.83 715.03,803.03 723.03,804.33 731.03,801.53 739.03,803.03 747.03,812.53 755.03,808.13 763.03,806.63 771.03,807.33 779.03,807.33 787.03,798.93 795.03,795.93 803.03,797.93 811.03,809.93 819.03,812.53 827.03,811.23 835.03,815.83 843.03,817.63 851.03,820.13 859.03,829.13 867.03,829.13 875.03,828.53 883.03,827.83 891.03,833.13 899.03,833.43 907.03,838.03 915.03,835.43 923.03,835.43 931.03,827.33 939.03,828.33 947.03,824.03 955.03,835.43 963.03,823.23 971.03,824.53 979.03,823.43 987.03,826.03 995.03,827.33 1003.03,826.53 1011.03,827.33 1019.03,825.23 1027.03,830.33 1035.03,823.43 1043.03,832.13 1051.03,823.43 1059.03,820.63 1067.03,821.43 1075.03,821.43 1083.03,820.43 1091.03,824.03 1099.03,811.73 1107.03,808.63 1115.03,809.13 1123.03,809.43 1131.03,812.53 1139.03,809.13 1147.03,802.23 1155.03,815.53 1163.03,815.53 1171.03,817.13 1179.03,817.13 1187.03,814.23 1195.03,809.93 1203.03,817.13 1211.03,816.33 1219.03,811.23 1227.03,815.03 1235.03,816.33 1243.03,806.63 1251.03,806.63 1259.03,807.33 1267.03,802.53 1275.03,805.33 1283.03,801.53 1291.03,815.83 1299.03,814.23 1307.03,814.23 1315.03,809.93 1323.03,807.33 1331.03,808.13 1339.03,805.33 1347.03,813.23 1355.03,812.53 1363.03,827.83 1371.03,824.03 1379.03,821.43 1387.03,824.03 1395.03,820.13 1403.03,820.93 1411.03,816.83 1419.03,815.53 1427.03,818.13 1435.03,816.33 1443.03,817.63 1451.03,820.13 1459.03,816.33 1467.03,820.93 1475.03,831.13 1483.03,845.73 1491.03,836.73 1499.03,832.13 1507.03,835.43 1515.03,838.83 1523.03,834.23 1531.03,837.23 1539.03,835.43 1547.03,833.73 1555.03,838.03 1563.03,843.93 1571.03,839.33 1579.03,844.93 1587.03,845.13 1595.03,846.93 1603.03,845.73 1611.03,842.33 1619.03,843.13 1627.03,833.43 1635.03,834.23 1643.03,835.43 1651.03,834.23 1659.03,834.23" fill="none" stroke="#1E90FF" stroke-width="1" /></g>
<text class="tk" x="7" y="772" font-family="'Liberation Sans', Arial, sans-serif" font-size="9.2" fill="#000" textLength="68.5" lengthAdjust="spacing">RSI(14) 35.6797</text>
<g class="tk" font-family="'Liberation Sans', Arial, sans-serif" font-size="9.2" fill="#000">
<text x="1687" y="770">100</text>
<text x="1687" y="799">70</text>
<text x="1687" y="844">30</text>
<text x="1687" y="872">0</text>
<rect x="1684" y="757" width="1" height="1" fill="#000"/><rect x="1684" y="759" width="1" height="1" fill="#000"/>
</g>
<g class="tk" font-family="'Liberation Sans', Arial, sans-serif" font-size="9.2" fill="#000">
<rect x="3" y="876" width="1" height="3" fill="#000"/>
<text x="2.3" y="888" textLength="48.0" lengthAdjust="spacing">7 Aug 2020</text>
<rect x="67" y="876" width="1" height="3" fill="#000"/>
<text x="66.3" y="888" textLength="56.5" lengthAdjust="spacing">11 Aug 00:00</text>
<rect x="131" y="876" width="1" height="3" fill="#000"/>
<text x="130.3" y="888" textLength="56.5" lengthAdjust="spacing">12 Aug 08:00</text>
<rect x="195" y="876" width="1" height="3" fill="#000"/>
<text x="194.3" y="888" textLength="56.5" lengthAdjust="spacing">13 Aug 16:00</text>
<rect x="259" y="876" width="1" height="3" fill="#000"/>
<text x="258.3" y="888" textLength="56.5" lengthAdjust="spacing">17 Aug 00:00</text>
<rect x="323" y="876" width="1" height="3" fill="#000"/>
<text x="322.3" y="888" textLength="56.5" lengthAdjust="spacing">18 Aug 08:00</text>
<rect x="387" y="876" width="1" height="3" fill="#000"/>
<text x="386.3" y="888" textLength="56.5" lengthAdjust="spacing">19 Aug 16:00</text>
<rect x="451" y="876" width="1" height="3" fill="#000"/>
<text x="450.3" y="888" textLength="56.5" lengthAdjust="spacing">21 Aug 00:00</text>
<rect x="515" y="876" width="1" height="3" fill="#000"/>
<text x="514.3" y="888" textLength="56.5" lengthAdjust="spacing">24 Aug 08:00</text>
<rect x="579" y="876" width="1" height="3" fill="#000"/>
<text x="578.3" y="888" textLength="56.5" lengthAdjust="spacing">25 Aug 16:00</text>
<rect x="643" y="876" width="1" height="3" fill="#000"/>
<text x="642.3" y="888" textLength="56.5" lengthAdjust="spacing">27 Aug 00:00</text>
<rect x="707" y="876" width="1" height="3" fill="#000"/>
<text x="706.3" y="888" textLength="56.5" lengthAdjust="spacing">28 Aug 08:00</text>
<rect x="771" y="876" width="1" height="3" fill="#000"/>
<text x="770.3" y="888" textLength="56.5" lengthAdjust="spacing">31 Aug 16:00</text>
<rect x="835" y="876" width="1" height="3" fill="#000"/>
<text x="834.3" y="888" textLength="50.5" lengthAdjust="spacing">2 Sep 00:00</text>
<rect x="899" y="876" width="1" height="3" fill="#000"/>
<text x="898.3" y="888" textLength="50.5" lengthAdjust="spacing">3 Sep 08:00</text>
<rect x="963" y="876" width="1" height="3" fill="#000"/>
<text x="962.3" y="888" textLength="50.5" lengthAdjust="spacing">4 Sep 16:00</text>
<rect x="1027" y="876" width="1" height="3" fill="#000"/>
<text x="1026.3" y="888" textLength="50.5" lengthAdjust="spacing">8 Sep 00:00</text>
<rect x="1091" y="876" width="1" height="3" fill="#000"/>
<text x="1090.3" y="888" textLength="50.5" lengthAdjust="spacing">9 Sep 08:00</text>
<rect x="1155" y="876" width="1" height="3" fill="#000"/>
<text x="1154.3" y="888" textLength="55.5" lengthAdjust="spacing">10 Sep 16:00</text>
<rect x="1219" y="876" width="1" height="3" fill="#000"/>
<text x="1218.3" y="888" textLength="55.5" lengthAdjust="spacing">14 Sep 00:00</text>
<rect x="1283" y="876" width="1" height="3" fill="#000"/>
<text x="1282.3" y="888" textLength="55.5" lengthAdjust="spacing">15 Sep 08:00</text>
<rect x="1347" y="876" width="1" height="3" fill="#000"/>
<text x="1346.3" y="888" textLength="55.5" lengthAdjust="spacing">16 Sep 16:00</text>
<rect x="1411" y="876" width="1" height="3" fill="#000"/>
<text x="1410.3" y="888" textLength="55.5" lengthAdjust="spacing">18 Sep 00:00</text>
<rect x="1475" y="876" width="1" height="3" fill="#000"/>
<text x="1474.3" y="888" textLength="55.5" lengthAdjust="spacing">21 Sep 08:00</text>
<rect x="1539" y="876" width="1" height="3" fill="#000"/>
<text x="1538.3" y="888" textLength="55.5" lengthAdjust="spacing">22 Sep 16:00</text>
<rect x="1603" y="876" width="1" height="3" fill="#000"/>
<text x="1602.3" y="888" textLength="55.5" lengthAdjust="spacing">24 Sep 00:00</text>
<rect x="1684" y="875" width="1" height="2" fill="#000"/>
</g>
</svg>
</body></html>
